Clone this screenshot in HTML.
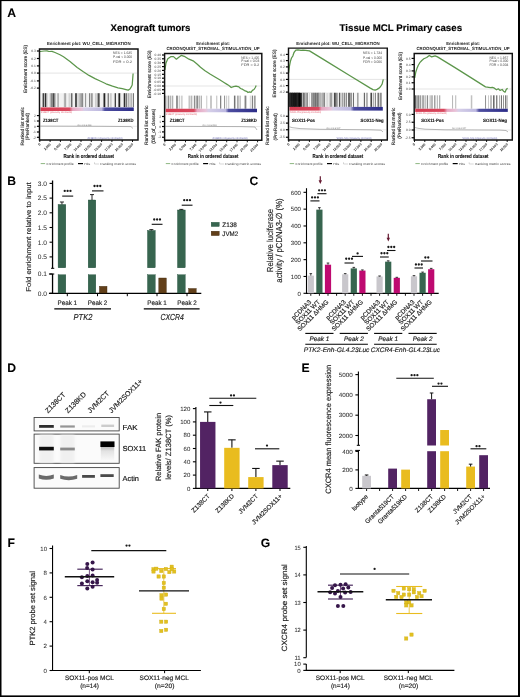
<!DOCTYPE html>
<html><head><meta charset="utf-8"><style>
html,body{margin:0;padding:0;background:#fff;}
body{width:520px;height:697px;overflow:hidden;position:relative;}
svg{position:absolute;left:0;top:0;display:block;will-change:transform;font-family:"Liberation Sans", sans-serif;}
.fr{position:absolute;left:0;top:0;width:517px;height:694px;border-style:solid;border-color:#000;border-width:1px 2px 2px 1px;}
</style></head><body>
<svg width="520" height="697" viewBox="0 0 520 697" text-rendering="geometricPrecision">
<text x="7.2" y="17" font-size="12.2" stroke="#000" stroke-width="0.05" font-weight="bold">A</text>
<text x="150.5" y="31.3" font-size="9.6" stroke="#000" stroke-width="0.16" text-anchor="middle" font-weight="bold" textLength="79.8" lengthAdjust="spacingAndGlyphs">Xenograft tumors</text>
<text x="400.8" y="31.3" font-size="9.6" stroke="#000" stroke-width="0.16" text-anchor="middle" font-weight="bold" textLength="122.5" lengthAdjust="spacingAndGlyphs">Tissue MCL Primary cases</text>
<text x="88.75" y="45" font-size="4.5" text-anchor="middle" font-weight="bold" fill="#1a1a1a" textLength="83.7" lengthAdjust="spacingAndGlyphs">Enrichment plot: WU_CELL_MIGRATION</text>
<line x1="39.5" y1="73.1" x2="137" y2="73.1" stroke="#bbb" stroke-width="0.4" />
<line x1="36.9" y1="51" x2="39.5" y2="51" stroke="#000" stroke-width="1.2" />
<text x="35.9" y="52.2" font-size="3.3" text-anchor="end" fill="#444">0.3</text>
<line x1="36.9" y1="58.5" x2="39.5" y2="58.5" stroke="#000" stroke-width="1.2" />
<text x="35.9" y="59.7" font-size="3.3" text-anchor="end" fill="#444">0.2</text>
<line x1="36.9" y1="65.9" x2="39.5" y2="65.9" stroke="#000" stroke-width="1.2" />
<text x="35.9" y="67.1" font-size="3.3" text-anchor="end" fill="#444">0.1</text>
<line x1="36.9" y1="73.1" x2="39.5" y2="73.1" stroke="#000" stroke-width="1.2" />
<text x="35.9" y="74.3" font-size="3.3" text-anchor="end" fill="#444">0.0</text>
<line x1="36.9" y1="80.9" x2="39.5" y2="80.9" stroke="#000" stroke-width="1.2" />
<text x="35.9" y="82.1" font-size="3.3" text-anchor="end" fill="#444">-0.1</text>
<line x1="36.9" y1="88.1" x2="39.5" y2="88.1" stroke="#000" stroke-width="1.2" />
<text x="35.9" y="89.3" font-size="3.3" text-anchor="end" fill="#444">-0.2</text>
<text x="113" y="54.4" font-size="3.6" fill="#444" textLength="19" lengthAdjust="spacingAndGlyphs">NES = 1.635</text>
<text x="113" y="58.4" font-size="3.6" fill="#444" textLength="19" lengthAdjust="spacingAndGlyphs">P-val < 0.000</text>
<text x="113" y="62.55" font-size="3.6" fill="#444" textLength="19" lengthAdjust="spacingAndGlyphs">FDR = 0.2</text>
<defs><linearGradient id="hb11" x1="0" x2="1" y1="0" y2="0"><stop offset="0" stop-color="#f2f2f2"/><stop offset="1" stop-color="#f2f2f2"/></linearGradient></defs>
<rect x="40.3" y="93.2" width="93.5" height="13.9" fill="url(#hb11)" />
<rect x="42.59" y="93.2" width="1.5" height="13.9" fill="rgb(65,65,65)" />
<rect x="44.73" y="93.2" width="1.5" height="13.9" fill="rgb(47,47,47)" />
<rect x="46.47" y="93.2" width="0.8" height="13.9" fill="rgb(147,147,147)" />
<rect x="49.73" y="93.2" width="1.8" height="13.9" fill="rgb(183,183,183)" />
<rect x="51.58" y="93.2" width="0.8" height="13.9" fill="rgb(35,35,35)" />
<rect x="52.75" y="93.2" width="1.5" height="13.9" fill="rgb(73,73,73)" />
<rect x="54.49" y="93.2" width="0.8" height="13.9" fill="rgb(81,81,81)" />
<rect x="57.56" y="93.2" width="1" height="13.9" fill="rgb(134,134,134)" />
<rect x="63.9" y="93.2" width="0.8" height="13.9" fill="rgb(154,154,154)" />
<rect x="64.97" y="93.2" width="1.2" height="13.9" fill="rgb(170,170,170)" />
<rect x="68.54" y="93.2" width="1.8" height="13.9" fill="rgb(212,212,212)" />
<rect x="70.96" y="93.2" width="1.5" height="13.9" fill="rgb(107,107,107)" />
<rect x="75.09" y="93.2" width="1.8" height="13.9" fill="rgb(68,68,68)" />
<rect x="77.21" y="93.2" width="1.8" height="13.9" fill="rgb(213,213,213)" />
<rect x="79.18" y="93.2" width="1.2" height="13.9" fill="rgb(183,183,183)" />
<rect x="80.69" y="93.2" width="0.8" height="13.9" fill="rgb(74,74,74)" />
<rect x="81.97" y="93.2" width="1.2" height="13.9" fill="rgb(138,138,138)" />
<rect x="85.11" y="93.2" width="1" height="13.9" fill="rgb(142,142,142)" />
<rect x="89.1" y="93.2" width="1" height="13.9" fill="rgb(119,119,119)" />
<rect x="90.16" y="93.2" width="0.8" height="13.9" fill="rgb(208,208,208)" />
<rect x="91.15" y="93.2" width="1.5" height="13.9" fill="rgb(140,140,140)" />
<rect x="95.35" y="93.2" width="1" height="13.9" fill="rgb(187,187,187)" />
<rect x="96.85" y="93.2" width="1.2" height="13.9" fill="rgb(168,168,168)" />
<rect x="98.1" y="93.2" width="1.5" height="13.9" fill="rgb(62,62,62)" />
<rect x="103.5" y="93.2" width="1.8" height="13.9" fill="rgb(36,36,36)" />
<rect x="107.76" y="93.2" width="0.8" height="13.9" fill="rgb(42,42,42)" />
<rect x="109.93" y="93.2" width="1.8" height="13.9" fill="rgb(203,203,203)" />
<rect x="114.69" y="93.2" width="1.2" height="13.9" fill="rgb(44,44,44)" />
<rect x="118.43" y="93.2" width="1.8" height="13.9" fill="rgb(32,32,32)" />
<rect x="120.29" y="93.2" width="0.8" height="13.9" fill="rgb(192,192,192)" />
<rect x="123.71" y="93.2" width="1.5" height="13.9" fill="rgb(45,45,45)" />
<rect x="125.81" y="93.2" width="0.8" height="13.9" fill="rgb(34,34,34)" />
<rect x="127.38" y="93.2" width="0.8" height="13.9" fill="rgb(200,200,200)" />
<rect x="128.38" y="93.2" width="0.8" height="13.9" fill="rgb(143,143,143)" />
<rect x="129.6" y="93.2" width="1.2" height="13.9" fill="rgb(194,194,194)" />
<rect x="131.06" y="93.2" width="1.2" height="13.9" fill="rgb(179,179,179)" />
<rect x="132.99" y="93.2" width="0.81" height="13.9" fill="rgb(88,88,88)" />
<defs><linearGradient id="g11" x1="0" x2="1" y1="0" y2="0"><stop offset="0" stop-color="#d63a50"/><stop offset="0.31" stop-color="#d8485e"/><stop offset="0.345" stop-color="#e6a6c0"/><stop offset="0.44" stop-color="#e8c4da"/><stop offset="0.47" stop-color="#d6cfe8"/><stop offset="0.655" stop-color="#bcb8e0"/><stop offset="0.69" stop-color="#4e4ea0"/><stop offset="1" stop-color="#2c2c88"/></linearGradient></defs>
<rect x="40.5" y="107.4" width="93.3" height="3.6" fill="url(#g11)" />
<text x="41" y="113.3" font-size="2.6" fill="#e06070" textLength="31" lengthAdjust="spacingAndGlyphs">Z138CT (positively correlated)</text>
<text x="87.5" y="138.5" font-size="2.6" fill="#6a6ab0" textLength="35" lengthAdjust="spacingAndGlyphs">Z138KD (negatively correlated)</text>
<path d="M40,51.5 L44,51 L47,50.8 L49,51.5 L52,51.3 L55,52.5 L60,54.8 L63.5,56.8 L70,61.5 L77.2,67.4 L83,71.5 L89,75.4 L95,78.6 L100.7,81.3 L106,83.8 L112.5,86.2 L118,87.8 L122.3,88.7 L126,89.6 L128.2,90.1 L130,89 L131.1,87.2 L132.2,85 L133.1,73.5" stroke="#5c964b" stroke-width="1.25" fill="none" stroke-linejoin="round"/>
<line x1="39.5" y1="126.3" x2="137" y2="126.3" stroke="#ccc" stroke-width="0.4" />
<path d="M40.5,126.1 L100,126.3 L131,126.6 L133,128.5" stroke="#888" stroke-width="0.6" fill="none" />
<text x="77.5" y="125.7" font-size="2.4" fill="#777" textLength="14" lengthAdjust="spacingAndGlyphs">Zero cross at 4863</text>
<line x1="36.9" y1="115.6" x2="39.5" y2="115.6" stroke="#000" stroke-width="1.2" />
<text x="35.9" y="116.8" font-size="3.3" text-anchor="end" fill="#444">2</text>
<line x1="36.9" y1="121" x2="39.5" y2="121" stroke="#000" stroke-width="1.2" />
<text x="35.9" y="122.2" font-size="3.3" text-anchor="end" fill="#444">1</text>
<line x1="36.9" y1="126.3" x2="39.5" y2="126.3" stroke="#000" stroke-width="1.2" />
<text x="35.9" y="127.5" font-size="3.3" text-anchor="end" fill="#444">0</text>
<line x1="36.9" y1="132" x2="39.5" y2="132" stroke="#000" stroke-width="1.2" />
<text x="35.9" y="133.2" font-size="3.3" text-anchor="end" fill="#444">-1</text>
<line x1="36.9" y1="137.3" x2="39.5" y2="137.3" stroke="#000" stroke-width="1.2" />
<text x="35.9" y="138.5" font-size="3.3" text-anchor="end" fill="#444">-2</text>
<text x="43" y="122.1" font-size="4.7" stroke="#111" stroke-width="0.12" font-weight="bold" fill="#111" textLength="15.4" lengthAdjust="spacingAndGlyphs">Z138CT</text>
<text x="133.6" y="122.1" font-size="4.7" stroke="#111" stroke-width="0.12" text-anchor="end" font-weight="bold" fill="#111" textLength="15.6" lengthAdjust="spacingAndGlyphs">Z138KD</text>
<path d="M39.5,49 L138,49 L138,140 L39.5,140 Z" fill="none" stroke="#111" stroke-width="1.45"/>
<text transform="translate(26.8,69) rotate(-90)" font-size="4.8" stroke="#222" stroke-width="0.12" text-anchor="middle" fill="#222" textLength="48" lengthAdjust="spacingAndGlyphs">Enrichment score (ES)</text>
<text transform="translate(23.5,126.2) rotate(-90)" font-size="4.8" stroke="#222" stroke-width="0.12" text-anchor="middle" fill="#222" textLength="38.4" lengthAdjust="spacingAndGlyphs">Ranked list metric</text>
<text transform="translate(28.9,126.5) rotate(-90)" font-size="4.8" stroke="#222" stroke-width="0.12" text-anchor="middle" fill="#222" textLength="27.3" lengthAdjust="spacingAndGlyphs">(PreRanked)</text>
<line x1="39.8" y1="140" x2="39.8" y2="142" stroke="#000" stroke-width="0.9" />
<text transform="translate(40.8,144.6) rotate(-45)" font-size="3.5" text-anchor="end" font-weight="bold" fill="#222" textLength="1.98" lengthAdjust="spacingAndGlyphs">0</text>
<line x1="50.1" y1="140" x2="50.1" y2="142" stroke="#000" stroke-width="0.9" />
<text transform="translate(51.1,144.6) rotate(-45)" font-size="3.5" text-anchor="end" font-weight="bold" fill="#222" textLength="8.3" lengthAdjust="spacingAndGlyphs">2,500</text>
<line x1="60.4" y1="140" x2="60.4" y2="142" stroke="#000" stroke-width="0.9" />
<text transform="translate(61.4,144.6) rotate(-45)" font-size="3.5" text-anchor="end" font-weight="bold" fill="#222" textLength="8.3" lengthAdjust="spacingAndGlyphs">5,000</text>
<line x1="70.7" y1="140" x2="70.7" y2="142" stroke="#000" stroke-width="0.9" />
<text transform="translate(71.7,144.6) rotate(-45)" font-size="3.5" text-anchor="end" font-weight="bold" fill="#222" textLength="8.3" lengthAdjust="spacingAndGlyphs">7,500</text>
<line x1="81" y1="140" x2="81" y2="142" stroke="#000" stroke-width="0.9" />
<text transform="translate(82,144.6) rotate(-45)" font-size="3.5" text-anchor="end" font-weight="bold" fill="#222" textLength="9.88" lengthAdjust="spacingAndGlyphs">10,000</text>
<line x1="91.3" y1="140" x2="91.3" y2="142" stroke="#000" stroke-width="0.9" />
<text transform="translate(92.3,144.6) rotate(-45)" font-size="3.5" text-anchor="end" font-weight="bold" fill="#222" textLength="9.88" lengthAdjust="spacingAndGlyphs">12,500</text>
<line x1="101.6" y1="140" x2="101.6" y2="142" stroke="#000" stroke-width="0.9" />
<text transform="translate(102.6,144.6) rotate(-45)" font-size="3.5" text-anchor="end" font-weight="bold" fill="#222" textLength="9.88" lengthAdjust="spacingAndGlyphs">15,000</text>
<line x1="111.9" y1="140" x2="111.9" y2="142" stroke="#000" stroke-width="0.9" />
<text transform="translate(112.9,144.6) rotate(-45)" font-size="3.5" text-anchor="end" font-weight="bold" fill="#222" textLength="9.88" lengthAdjust="spacingAndGlyphs">17,500</text>
<line x1="122.2" y1="140" x2="122.2" y2="142" stroke="#000" stroke-width="0.9" />
<text transform="translate(123.2,144.6) rotate(-45)" font-size="3.5" text-anchor="end" font-weight="bold" fill="#222" textLength="9.88" lengthAdjust="spacingAndGlyphs">20,000</text>
<line x1="132.5" y1="140" x2="132.5" y2="142" stroke="#000" stroke-width="0.9" />
<text transform="translate(133.5,144.6) rotate(-45)" font-size="3.5" text-anchor="end" font-weight="bold" fill="#222" textLength="9.88" lengthAdjust="spacingAndGlyphs">22,500</text>
<text x="88.75" y="158.1" font-size="5.7" stroke="#111" stroke-width="0.1" text-anchor="middle" font-weight="bold" fill="#111" textLength="50.7" lengthAdjust="spacingAndGlyphs">Rank in ordered dataset</text>
<line x1="40.7" y1="163.6" x2="45.1" y2="163.6" stroke="#5c964b" stroke-width="0.7" />
<text x="46.5" y="164.7" font-size="3.1" fill="#444" textLength="27" lengthAdjust="spacingAndGlyphs">Enrichment profile</text>
<line x1="78" y1="163.6" x2="83" y2="163.6" stroke="#000" stroke-width="1.2" />
<text x="84.3" y="164.7" font-size="3.1" fill="#444" textLength="6" lengthAdjust="spacingAndGlyphs">Hits</text>
<path d="M94.5,162.3 L94.5,164 L99,164" stroke="#999" stroke-width="0.4" fill="none" />
<text x="100" y="164.7" font-size="3.1" fill="#444" textLength="36" lengthAdjust="spacingAndGlyphs">Ranking metric scores</text>
<text x="213.1" y="45" font-size="4.5" text-anchor="middle" font-weight="bold" fill="#1a1a1a" textLength="33.75" lengthAdjust="spacingAndGlyphs">Enrichment plot:</text>
<text x="213.1" y="49.9" font-size="4.5" text-anchor="middle" font-weight="bold" fill="#1a1a1a" textLength="93.25" lengthAdjust="spacingAndGlyphs">CROONQUIST_STROMAL_STIMULATION_UP</text>
<line x1="164.6" y1="86" x2="260.8" y2="86" stroke="#bbb" stroke-width="0.4" />
<line x1="162" y1="55" x2="164.6" y2="55" stroke="#000" stroke-width="1.2" />
<text x="161" y="56.2" font-size="3.3" text-anchor="end" fill="#444">0.40</text>
<line x1="162" y1="58.8" x2="164.6" y2="58.8" stroke="#000" stroke-width="1.2" />
<text x="161" y="60" font-size="3.3" text-anchor="end" fill="#444">0.35</text>
<line x1="162" y1="62.7" x2="164.6" y2="62.7" stroke="#000" stroke-width="1.2" />
<text x="161" y="63.9" font-size="3.3" text-anchor="end" fill="#444">0.30</text>
<line x1="162" y1="66.6" x2="164.6" y2="66.6" stroke="#000" stroke-width="1.2" />
<text x="161" y="67.8" font-size="3.3" text-anchor="end" fill="#444">0.25</text>
<line x1="162" y1="70.4" x2="164.6" y2="70.4" stroke="#000" stroke-width="1.2" />
<text x="161" y="71.6" font-size="3.3" text-anchor="end" fill="#444">0.20</text>
<line x1="162" y1="74.3" x2="164.6" y2="74.3" stroke="#000" stroke-width="1.2" />
<text x="161" y="75.5" font-size="3.3" text-anchor="end" fill="#444">0.15</text>
<line x1="162" y1="78.2" x2="164.6" y2="78.2" stroke="#000" stroke-width="1.2" />
<text x="161" y="79.4" font-size="3.3" text-anchor="end" fill="#444">0.10</text>
<line x1="162" y1="82.1" x2="164.6" y2="82.1" stroke="#000" stroke-width="1.2" />
<text x="161" y="83.3" font-size="3.3" text-anchor="end" fill="#444">0.05</text>
<line x1="162" y1="86" x2="164.6" y2="86" stroke="#000" stroke-width="1.2" />
<text x="161" y="87.2" font-size="3.3" text-anchor="end" fill="#444">0.00</text>
<line x1="162" y1="89.7" x2="164.6" y2="89.7" stroke="#000" stroke-width="1.2" />
<text x="161" y="90.9" font-size="3.3" text-anchor="end" fill="#444">-0.05</text>
<line x1="162" y1="93.4" x2="164.6" y2="93.4" stroke="#000" stroke-width="1.2" />
<text x="161" y="94.6" font-size="3.3" text-anchor="end" fill="#444">-0.10</text>
<text x="241.25" y="58.55" font-size="3.6" fill="#444" textLength="18" lengthAdjust="spacingAndGlyphs">NES = 1.405</text>
<text x="241.25" y="62.3" font-size="3.6" fill="#444" textLength="18" lengthAdjust="spacingAndGlyphs">P-val = 0.03</text>
<text x="241.25" y="66.05" font-size="3.6" fill="#444" textLength="18" lengthAdjust="spacingAndGlyphs">FDR = 0.2</text>
<rect x="165.4" y="95.6" width="1" height="13.15" fill="rgb(151,151,151)" />
<rect x="167.7" y="95.6" width="1.2" height="13.15" fill="rgb(133,133,133)" />
<rect x="169.55" y="95.6" width="1.8" height="13.15" fill="rgb(181,181,181)" />
<rect x="172.38" y="95.6" width="0.8" height="13.15" fill="rgb(132,132,132)" />
<rect x="176.08" y="95.6" width="1.8" height="13.15" fill="rgb(140,140,140)" />
<rect x="178.66" y="95.6" width="1.5" height="13.15" fill="rgb(205,205,205)" />
<rect x="181.41" y="95.6" width="1" height="13.15" fill="rgb(177,177,177)" />
<rect x="188.66" y="95.6" width="1" height="13.15" fill="rgb(166,166,166)" />
<rect x="190.55" y="95.6" width="1.8" height="13.15" fill="rgb(184,184,184)" />
<rect x="193.85" y="95.6" width="1.5" height="13.15" fill="rgb(142,142,142)" />
<rect x="196.38" y="95.6" width="1.5" height="13.15" fill="rgb(125,125,125)" />
<rect x="198.72" y="95.6" width="0.8" height="13.15" fill="rgb(122,122,122)" />
<rect x="200.67" y="95.6" width="1.2" height="13.15" fill="rgb(171,171,171)" />
<rect x="206.26" y="95.6" width="1" height="13.15" fill="rgb(201,201,201)" />
<rect x="210.1" y="95.6" width="1.8" height="13.15" fill="rgb(195,195,195)" />
<rect x="216.42" y="95.6" width="0.8" height="13.15" fill="rgb(171,171,171)" />
<rect x="220.06" y="95.6" width="1.2" height="13.15" fill="rgb(125,125,125)" />
<rect x="224.27" y="95.6" width="0.8" height="13.15" fill="rgb(115,115,115)" />
<rect x="226.14" y="95.6" width="1" height="13.15" fill="rgb(200,200,200)" />
<rect x="228.26" y="95.6" width="1" height="13.15" fill="rgb(194,194,194)" />
<rect x="233.93" y="95.6" width="1.5" height="13.15" fill="rgb(116,116,116)" />
<rect x="236.95" y="95.6" width="1.8" height="13.15" fill="rgb(172,172,172)" />
<rect x="239.41" y="95.6" width="1.5" height="13.15" fill="rgb(193,193,193)" />
<rect x="244.56" y="95.6" width="1.8" height="13.15" fill="rgb(132,132,132)" />
<rect x="249.85" y="95.6" width="0.8" height="13.15" fill="rgb(198,198,198)" />
<rect x="251.8" y="95.6" width="1.2" height="13.15" fill="rgb(132,132,132)" />
<rect x="253.86" y="95.6" width="1.8" height="13.15" fill="rgb(158,158,158)" />
<defs><linearGradient id="g22" x1="0" x2="1" y1="0" y2="0"><stop offset="0" stop-color="#d63a50"/><stop offset="0.31" stop-color="#d8485e"/><stop offset="0.345" stop-color="#e6a6c0"/><stop offset="0.44" stop-color="#e8c4da"/><stop offset="0.47" stop-color="#d6cfe8"/><stop offset="0.655" stop-color="#bcb8e0"/><stop offset="0.69" stop-color="#4e4ea0"/><stop offset="1" stop-color="#2c2c88"/></linearGradient></defs>
<rect x="165.6" y="108.75" width="91.4" height="3.5" fill="url(#g22)" />
<text x="166.1" y="114.55" font-size="2.6" fill="#e06070" textLength="31" lengthAdjust="spacingAndGlyphs">Z138CT (positively correlated)</text>
<text x="212.6" y="138.8" font-size="2.6" fill="#6a6ab0" textLength="35" lengthAdjust="spacingAndGlyphs">Z138KD (negatively correlated)</text>
<path d="M164.9,70 L166,63 L167.8,58.7 L170.7,56.7 L173.5,56.6 L176.4,59.2 L178.5,57.5 L181.2,55.4 L185,56.7 L189,59.2 L193.7,61.2 L197,64 L200.5,67.3 L205,70.8 L210,74 L215,77 L219.7,79.8 L224,82.5 L227.4,84.6 L229.5,86 L231.2,87.5 L233.5,86.6 L236,86.2 L238.9,86.9 L240.5,88.5 L242.8,89.4 L244.5,90.6 L246.6,91.3 L248,92.5 L249.5,91.9 L251,92.3 L252.4,90.4 L254,89.5 L255.3,87.5 L256.2,85.6" stroke="#5c964b" stroke-width="1.25" fill="none" stroke-linejoin="round"/>
<line x1="164.6" y1="126.5" x2="260.8" y2="126.5" stroke="#ccc" stroke-width="0.4" />
<path d="M165.5,126.3 L240,126.6 L255,127 L257,130" stroke="#888" stroke-width="0.6" fill="none" />
<text x="202.6" y="125.9" font-size="2.4" fill="#777" textLength="14" lengthAdjust="spacingAndGlyphs">Zero cross at 4863</text>
<line x1="162" y1="116.5" x2="164.6" y2="116.5" stroke="#000" stroke-width="1.2" />
<text x="161" y="117.7" font-size="3.3" text-anchor="end" fill="#444">2</text>
<line x1="162" y1="121.5" x2="164.6" y2="121.5" stroke="#000" stroke-width="1.2" />
<text x="161" y="122.7" font-size="3.3" text-anchor="end" fill="#444">1</text>
<line x1="162" y1="126.5" x2="164.6" y2="126.5" stroke="#000" stroke-width="1.2" />
<text x="161" y="127.7" font-size="3.3" text-anchor="end" fill="#444">0</text>
<line x1="162" y1="131.9" x2="164.6" y2="131.9" stroke="#000" stroke-width="1.2" />
<text x="161" y="133.1" font-size="3.3" text-anchor="end" fill="#444">-1</text>
<line x1="162" y1="137.25" x2="164.6" y2="137.25" stroke="#000" stroke-width="1.2" />
<text x="161" y="138.45" font-size="3.3" text-anchor="end" fill="#444">-2</text>
<text x="169.75" y="122.1" font-size="4.7" stroke="#111" stroke-width="0.12" font-weight="bold" fill="#111" textLength="14.65" lengthAdjust="spacingAndGlyphs">Z138CT</text>
<text x="256.9" y="122.1" font-size="4.7" stroke="#111" stroke-width="0.12" text-anchor="end" font-weight="bold" fill="#111" textLength="15.65" lengthAdjust="spacingAndGlyphs">Z138KD</text>
<path d="M164.6,53.5 L261.8,53.5 L261.8,140.3 L164.6,140.3 Z" fill="none" stroke="#111" stroke-width="1.45"/>
<text transform="translate(150.5,74.3) rotate(-90)" font-size="4.8" stroke="#222" stroke-width="0.12" text-anchor="middle" fill="#222" textLength="48" lengthAdjust="spacingAndGlyphs">Enrichment score (ES)</text>
<text transform="translate(147.6,125.3) rotate(-90)" font-size="4.8" stroke="#222" stroke-width="0.12" text-anchor="middle" fill="#222" textLength="39.4" lengthAdjust="spacingAndGlyphs">Ranked list metric</text>
<text transform="translate(155.4,126.3) rotate(-90)" font-size="4.8" stroke="#222" stroke-width="0.12" text-anchor="middle" fill="#222" textLength="35" lengthAdjust="spacingAndGlyphs">(Diff_of_classes)</text>
<line x1="164.9" y1="140.3" x2="164.9" y2="142.3" stroke="#000" stroke-width="0.9" />
<text transform="translate(165.9,144.9) rotate(-45)" font-size="3.5" text-anchor="end" font-weight="bold" fill="#222" textLength="1.98" lengthAdjust="spacingAndGlyphs">0</text>
<line x1="175.2" y1="140.3" x2="175.2" y2="142.3" stroke="#000" stroke-width="0.9" />
<text transform="translate(176.2,144.9) rotate(-45)" font-size="3.5" text-anchor="end" font-weight="bold" fill="#222" textLength="8.3" lengthAdjust="spacingAndGlyphs">2,500</text>
<line x1="185.5" y1="140.3" x2="185.5" y2="142.3" stroke="#000" stroke-width="0.9" />
<text transform="translate(186.5,144.9) rotate(-45)" font-size="3.5" text-anchor="end" font-weight="bold" fill="#222" textLength="8.3" lengthAdjust="spacingAndGlyphs">5,000</text>
<line x1="195.8" y1="140.3" x2="195.8" y2="142.3" stroke="#000" stroke-width="0.9" />
<text transform="translate(196.8,144.9) rotate(-45)" font-size="3.5" text-anchor="end" font-weight="bold" fill="#222" textLength="8.3" lengthAdjust="spacingAndGlyphs">7,500</text>
<line x1="206.1" y1="140.3" x2="206.1" y2="142.3" stroke="#000" stroke-width="0.9" />
<text transform="translate(207.1,144.9) rotate(-45)" font-size="3.5" text-anchor="end" font-weight="bold" fill="#222" textLength="9.88" lengthAdjust="spacingAndGlyphs">10,000</text>
<line x1="216.4" y1="140.3" x2="216.4" y2="142.3" stroke="#000" stroke-width="0.9" />
<text transform="translate(217.4,144.9) rotate(-45)" font-size="3.5" text-anchor="end" font-weight="bold" fill="#222" textLength="9.88" lengthAdjust="spacingAndGlyphs">12,500</text>
<line x1="226.7" y1="140.3" x2="226.7" y2="142.3" stroke="#000" stroke-width="0.9" />
<text transform="translate(227.7,144.9) rotate(-45)" font-size="3.5" text-anchor="end" font-weight="bold" fill="#222" textLength="9.88" lengthAdjust="spacingAndGlyphs">15,000</text>
<line x1="237" y1="140.3" x2="237" y2="142.3" stroke="#000" stroke-width="0.9" />
<text transform="translate(238,144.9) rotate(-45)" font-size="3.5" text-anchor="end" font-weight="bold" fill="#222" textLength="9.88" lengthAdjust="spacingAndGlyphs">17,500</text>
<line x1="247.3" y1="140.3" x2="247.3" y2="142.3" stroke="#000" stroke-width="0.9" />
<text transform="translate(248.3,144.9) rotate(-45)" font-size="3.5" text-anchor="end" font-weight="bold" fill="#222" textLength="9.88" lengthAdjust="spacingAndGlyphs">20,000</text>
<line x1="257.6" y1="140.3" x2="257.6" y2="142.3" stroke="#000" stroke-width="0.9" />
<text transform="translate(258.6,144.9) rotate(-45)" font-size="3.5" text-anchor="end" font-weight="bold" fill="#222" textLength="9.88" lengthAdjust="spacingAndGlyphs">22,500</text>
<text x="213.2" y="158.1" font-size="5.7" stroke="#111" stroke-width="0.1" text-anchor="middle" font-weight="bold" fill="#111" textLength="50.7" lengthAdjust="spacingAndGlyphs">Rank in ordered dataset</text>
<line x1="165.8" y1="163.6" x2="170.2" y2="163.6" stroke="#5c964b" stroke-width="0.7" />
<text x="171.6" y="164.7" font-size="3.1" fill="#444" textLength="27" lengthAdjust="spacingAndGlyphs">Enrichment profile</text>
<line x1="203.1" y1="163.6" x2="208.1" y2="163.6" stroke="#000" stroke-width="1.2" />
<text x="209.4" y="164.7" font-size="3.1" fill="#444" textLength="6" lengthAdjust="spacingAndGlyphs">Hits</text>
<path d="M219.6,162.3 L219.6,164 L224.1,164" stroke="#999" stroke-width="0.4" fill="none" />
<text x="225.1" y="164.7" font-size="3.1" fill="#444" textLength="36" lengthAdjust="spacingAndGlyphs">Ranking metric scores</text>
<text x="338" y="45" font-size="4.5" text-anchor="middle" font-weight="bold" fill="#1a1a1a" textLength="83.5" lengthAdjust="spacingAndGlyphs">Enrichment plot: WU_CELL_MIGRATION</text>
<line x1="288.5" y1="79.4" x2="386.3" y2="79.4" stroke="#bbb" stroke-width="0.4" />
<line x1="285.9" y1="54.4" x2="288.5" y2="54.4" stroke="#000" stroke-width="1.2" />
<text x="284.9" y="55.6" font-size="3.3" text-anchor="end" fill="#444">0.4</text>
<line x1="285.9" y1="60.6" x2="288.5" y2="60.6" stroke="#000" stroke-width="1.2" />
<text x="284.9" y="61.8" font-size="3.3" text-anchor="end" fill="#444">0.3</text>
<line x1="285.9" y1="66.9" x2="288.5" y2="66.9" stroke="#000" stroke-width="1.2" />
<text x="284.9" y="68.1" font-size="3.3" text-anchor="end" fill="#444">0.2</text>
<line x1="285.9" y1="73.1" x2="288.5" y2="73.1" stroke="#000" stroke-width="1.2" />
<text x="284.9" y="74.3" font-size="3.3" text-anchor="end" fill="#444">0.1</text>
<line x1="285.9" y1="79.4" x2="288.5" y2="79.4" stroke="#000" stroke-width="1.2" />
<text x="284.9" y="80.6" font-size="3.3" text-anchor="end" fill="#444">0.0</text>
<line x1="285.9" y1="85.6" x2="288.5" y2="85.6" stroke="#000" stroke-width="1.2" />
<text x="284.9" y="86.8" font-size="3.3" text-anchor="end" fill="#444">-0.1</text>
<line x1="285.9" y1="92.1" x2="288.5" y2="92.1" stroke="#000" stroke-width="1.2" />
<text x="284.9" y="93.3" font-size="3.3" text-anchor="end" fill="#444">-0.2</text>
<text x="363" y="54.4" font-size="3.6" fill="#444" textLength="19" lengthAdjust="spacingAndGlyphs">NES = 1.734</text>
<text x="363" y="58.55" font-size="3.6" fill="#444" textLength="19" lengthAdjust="spacingAndGlyphs">P-val < 0.000</text>
<text x="363" y="62.55" font-size="3.6" fill="#444" textLength="19" lengthAdjust="spacingAndGlyphs">FDR = 0.006</text>
<defs><linearGradient id="hb33" x1="0" x2="1" y1="0" y2="0"><stop offset="0" stop-color="#111"/><stop offset="0.12" stop-color="#1a1a1a"/><stop offset="0.16" stop-color="#999"/><stop offset="0.4" stop-color="#dadada"/><stop offset="0.6" stop-color="#f4f4f4"/><stop offset="1" stop-color="#fff"/></linearGradient></defs>
<rect x="289.3" y="92.75" width="93.5" height="14.15" fill="url(#hb33)" />
<rect x="289.3" y="92.75" width="1.8" height="14.15" fill="rgb(42,42,42)" />
<rect x="291.48" y="92.75" width="1.8" height="14.15" fill="rgb(32,32,32)" />
<rect x="293.78" y="92.75" width="1.8" height="14.15" fill="rgb(24,24,24)" />
<rect x="295.8" y="92.75" width="0.8" height="14.15" fill="rgb(24,24,24)" />
<rect x="296.64" y="92.75" width="1.8" height="14.15" fill="rgb(40,40,40)" />
<rect x="298.67" y="92.75" width="1.2" height="14.15" fill="rgb(5,5,5)" />
<rect x="302.4" y="92.75" width="0.8" height="14.15" fill="rgb(243,243,243)" />
<rect x="303.42" y="92.75" width="0.8" height="14.15" fill="rgb(82,82,82)" />
<rect x="304.77" y="92.75" width="0.8" height="14.15" fill="rgb(133,133,133)" />
<rect x="305.62" y="92.75" width="0.8" height="14.15" fill="rgb(244,244,244)" />
<rect x="306.58" y="92.75" width="1" height="14.15" fill="rgb(126,126,126)" />
<rect x="308.05" y="92.75" width="1.5" height="14.15" fill="rgb(247,247,247)" />
<rect x="309.86" y="92.75" width="1.2" height="14.15" fill="rgb(248,248,248)" />
<rect x="311.41" y="92.75" width="1.2" height="14.15" fill="rgb(140,140,140)" />
<rect x="313.19" y="92.75" width="1.5" height="14.15" fill="rgb(120,120,120)" />
<rect x="315.06" y="92.75" width="1.5" height="14.15" fill="rgb(108,108,108)" />
<rect x="317.17" y="92.75" width="1.5" height="14.15" fill="rgb(102,102,102)" />
<rect x="318.75" y="92.75" width="1" height="14.15" fill="rgb(177,177,177)" />
<rect x="319.89" y="92.75" width="1.2" height="14.15" fill="rgb(180,180,180)" />
<rect x="321.79" y="92.75" width="1.8" height="14.15" fill="rgb(176,176,176)" />
<rect x="323.6" y="92.75" width="1.5" height="14.15" fill="rgb(134,134,134)" />
<rect x="325.26" y="92.75" width="1" height="14.15" fill="rgb(250,250,250)" />
<rect x="328.29" y="92.75" width="0.8" height="14.15" fill="rgb(241,241,241)" />
<rect x="329.77" y="92.75" width="1.5" height="14.15" fill="rgb(162,162,162)" />
<rect x="331.45" y="92.75" width="0.8" height="14.15" fill="rgb(124,124,124)" />
<rect x="332.5" y="92.75" width="0.8" height="14.15" fill="rgb(240,240,240)" />
<rect x="333.99" y="92.75" width="1.8" height="14.15" fill="rgb(72,72,72)" />
<rect x="336.1" y="92.75" width="1.5" height="14.15" fill="rgb(133,133,133)" />
<rect x="339.04" y="92.75" width="1.2" height="14.15" fill="rgb(78,78,78)" />
<rect x="341.64" y="92.75" width="1.8" height="14.15" fill="rgb(163,163,163)" />
<rect x="344.04" y="92.75" width="0.8" height="14.15" fill="rgb(110,110,110)" />
<rect x="345.7" y="92.75" width="1.2" height="14.15" fill="rgb(129,129,129)" />
<rect x="348.1" y="92.75" width="1.8" height="14.15" fill="rgb(91,91,91)" />
<rect x="350.54" y="92.75" width="1" height="14.15" fill="rgb(71,71,71)" />
<rect x="352.96" y="92.75" width="1" height="14.15" fill="rgb(106,106,106)" />
<rect x="357.38" y="92.75" width="1" height="14.15" fill="rgb(114,114,114)" />
<rect x="363.83" y="92.75" width="1.2" height="14.15" fill="rgb(103,103,103)" />
<rect x="366.06" y="92.75" width="1.8" height="14.15" fill="rgb(172,172,172)" />
<rect x="370.46" y="92.75" width="1.5" height="14.15" fill="rgb(64,64,64)" />
<rect x="372.73" y="92.75" width="1.5" height="14.15" fill="rgb(176,176,176)" />
<rect x="374.96" y="92.75" width="1" height="14.15" fill="rgb(133,133,133)" />
<rect x="377.46" y="92.75" width="1.8" height="14.15" fill="rgb(115,115,115)" />
<rect x="379.95" y="92.75" width="1.8" height="14.15" fill="rgb(142,142,142)" />
<defs><linearGradient id="g33" x1="0" x2="1" y1="0" y2="0"><stop offset="0" stop-color="#d63a50"/><stop offset="0.31" stop-color="#d8485e"/><stop offset="0.345" stop-color="#e6a6c0"/><stop offset="0.44" stop-color="#e8c4da"/><stop offset="0.47" stop-color="#d6cfe8"/><stop offset="0.655" stop-color="#bcb8e0"/><stop offset="0.69" stop-color="#4e4ea0"/><stop offset="1" stop-color="#2c2c88"/></linearGradient></defs>
<rect x="289.5" y="106.9" width="93.3" height="3.7" fill="url(#g33)" />
<text x="290" y="112.9" font-size="2.6" fill="#e06070" textLength="31" lengthAdjust="spacingAndGlyphs">SOX11-Pos (positively correlated)</text>
<text x="336.5" y="138.5" font-size="2.6" fill="#6a6ab0" textLength="35" lengthAdjust="spacingAndGlyphs">SOX11-Neg (negatively correlated)</text>
<path d="M288.6,73 L289.5,66 L290.5,61 L291.5,58 L292.9,55.8 L294,52.5 L295.8,50.2 L298,49.9 L301,50.4 L303,50.1 L305.6,50.3 L309.5,50.9 L325,60.4 L350,75.7 L370.3,88.1 L373,89.6 L375.2,90.1 L377,89.4 L379.1,88.1 L380.6,86.5 L382.1,84.2 L383.3,79.4" stroke="#5c964b" stroke-width="1.25" fill="none" stroke-linejoin="round"/>
<line x1="288.5" y1="129.75" x2="386.3" y2="129.75" stroke="#ccc" stroke-width="0.4" />
<path d="M289.5,126.8 L292,127.6 L300,128.6 L320,129.3 L370,129.8 L381,130.2 L383,132" stroke="#888" stroke-width="0.6" fill="none" />
<text x="326.5" y="129.15" font-size="2.4" fill="#777" textLength="14" lengthAdjust="spacingAndGlyphs">Zero cross at 9377</text>
<line x1="285.9" y1="116.25" x2="288.5" y2="116.25" stroke="#000" stroke-width="1.2" />
<text x="284.9" y="117.45" font-size="3.3" text-anchor="end" fill="#444">5.0</text>
<line x1="285.9" y1="123.1" x2="288.5" y2="123.1" stroke="#000" stroke-width="1.2" />
<text x="284.9" y="124.3" font-size="3.3" text-anchor="end" fill="#444">2.5</text>
<line x1="285.9" y1="129.75" x2="288.5" y2="129.75" stroke="#000" stroke-width="1.2" />
<text x="284.9" y="130.95" font-size="3.3" text-anchor="end" fill="#444">0.0</text>
<line x1="285.9" y1="137.25" x2="288.5" y2="137.25" stroke="#000" stroke-width="1.2" />
<text x="284.9" y="138.45" font-size="3.3" text-anchor="end" fill="#444">-2.5</text>
<text x="291.9" y="122.1" font-size="4.7" stroke="#111" stroke-width="0.12" font-weight="bold" fill="#111" textLength="23.1" lengthAdjust="spacingAndGlyphs">SOX11-Pos</text>
<text x="383.5" y="122.1" font-size="4.7" stroke="#111" stroke-width="0.12" text-anchor="end" font-weight="bold" fill="#111" textLength="22.9" lengthAdjust="spacingAndGlyphs">SOX11-Neg</text>
<path d="M288.5,48.1 L387.3,48.1 L387.3,140 L288.5,140 Z" fill="none" stroke="#111" stroke-width="1.45"/>
<text transform="translate(276,73.5) rotate(-90)" font-size="4.8" stroke="#222" stroke-width="0.12" text-anchor="middle" fill="#222" textLength="48" lengthAdjust="spacingAndGlyphs">Enrichment score (ES)</text>
<text transform="translate(268.9,125.6) rotate(-90)" font-size="4.8" stroke="#222" stroke-width="0.12" text-anchor="middle" fill="#222" textLength="38.6" lengthAdjust="spacingAndGlyphs">Ranked list metric</text>
<text transform="translate(276.7,126.8) rotate(-90)" font-size="4.8" stroke="#222" stroke-width="0.12" text-anchor="middle" fill="#222" textLength="27.3" lengthAdjust="spacingAndGlyphs">(PreRanked)</text>
<line x1="288.8" y1="140" x2="288.8" y2="142" stroke="#000" stroke-width="0.9" />
<text transform="translate(289.8,144.6) rotate(-45)" font-size="3.5" text-anchor="end" font-weight="bold" fill="#222" textLength="1.98" lengthAdjust="spacingAndGlyphs">0</text>
<line x1="299.1" y1="140" x2="299.1" y2="142" stroke="#000" stroke-width="0.9" />
<text transform="translate(300.1,144.6) rotate(-45)" font-size="3.5" text-anchor="end" font-weight="bold" fill="#222" textLength="8.3" lengthAdjust="spacingAndGlyphs">2,500</text>
<line x1="309.4" y1="140" x2="309.4" y2="142" stroke="#000" stroke-width="0.9" />
<text transform="translate(310.4,144.6) rotate(-45)" font-size="3.5" text-anchor="end" font-weight="bold" fill="#222" textLength="8.3" lengthAdjust="spacingAndGlyphs">5,000</text>
<line x1="319.7" y1="140" x2="319.7" y2="142" stroke="#000" stroke-width="0.9" />
<text transform="translate(320.7,144.6) rotate(-45)" font-size="3.5" text-anchor="end" font-weight="bold" fill="#222" textLength="8.3" lengthAdjust="spacingAndGlyphs">7,500</text>
<line x1="330" y1="140" x2="330" y2="142" stroke="#000" stroke-width="0.9" />
<text transform="translate(331,144.6) rotate(-45)" font-size="3.5" text-anchor="end" font-weight="bold" fill="#222" textLength="9.88" lengthAdjust="spacingAndGlyphs">10,000</text>
<line x1="340.3" y1="140" x2="340.3" y2="142" stroke="#000" stroke-width="0.9" />
<text transform="translate(341.3,144.6) rotate(-45)" font-size="3.5" text-anchor="end" font-weight="bold" fill="#222" textLength="9.88" lengthAdjust="spacingAndGlyphs">12,500</text>
<line x1="350.6" y1="140" x2="350.6" y2="142" stroke="#000" stroke-width="0.9" />
<text transform="translate(351.6,144.6) rotate(-45)" font-size="3.5" text-anchor="end" font-weight="bold" fill="#222" textLength="9.88" lengthAdjust="spacingAndGlyphs">15,000</text>
<line x1="360.9" y1="140" x2="360.9" y2="142" stroke="#000" stroke-width="0.9" />
<text transform="translate(361.9,144.6) rotate(-45)" font-size="3.5" text-anchor="end" font-weight="bold" fill="#222" textLength="9.88" lengthAdjust="spacingAndGlyphs">17,500</text>
<line x1="371.2" y1="140" x2="371.2" y2="142" stroke="#000" stroke-width="0.9" />
<text transform="translate(372.2,144.6) rotate(-45)" font-size="3.5" text-anchor="end" font-weight="bold" fill="#222" textLength="9.88" lengthAdjust="spacingAndGlyphs">20,000</text>
<line x1="381.5" y1="140" x2="381.5" y2="142" stroke="#000" stroke-width="0.9" />
<text transform="translate(382.5,144.6) rotate(-45)" font-size="3.5" text-anchor="end" font-weight="bold" fill="#222" textLength="9.88" lengthAdjust="spacingAndGlyphs">22,500</text>
<text x="337.9" y="158.1" font-size="5.7" stroke="#111" stroke-width="0.1" text-anchor="middle" font-weight="bold" fill="#111" textLength="50.7" lengthAdjust="spacingAndGlyphs">Rank in ordered dataset</text>
<line x1="289.7" y1="163.6" x2="294.1" y2="163.6" stroke="#5c964b" stroke-width="0.7" />
<text x="295.5" y="164.7" font-size="3.1" fill="#444" textLength="27" lengthAdjust="spacingAndGlyphs">Enrichment profile</text>
<line x1="327" y1="163.6" x2="332" y2="163.6" stroke="#000" stroke-width="1.2" />
<text x="333.3" y="164.7" font-size="3.1" fill="#444" textLength="6" lengthAdjust="spacingAndGlyphs">Hits</text>
<path d="M343.5,162.3 L343.5,164 L348,164" stroke="#999" stroke-width="0.4" fill="none" />
<text x="349" y="164.7" font-size="3.1" fill="#444" textLength="36" lengthAdjust="spacingAndGlyphs">Ranking metric scores</text>
<text x="463.1" y="45" font-size="4.5" text-anchor="middle" font-weight="bold" fill="#1a1a1a" textLength="33.75" lengthAdjust="spacingAndGlyphs">Enrichment plot:</text>
<text x="463.1" y="49.9" font-size="4.5" text-anchor="middle" font-weight="bold" fill="#1a1a1a" textLength="93.25" lengthAdjust="spacingAndGlyphs">CROONQUIST_STROMAL_STIMULATION_UP</text>
<line x1="414.2" y1="89" x2="511.3" y2="89" stroke="#bbb" stroke-width="0.4" />
<line x1="411.6" y1="58.4" x2="414.2" y2="58.4" stroke="#000" stroke-width="1.2" />
<text x="410.6" y="59.6" font-size="3.3" text-anchor="end" fill="#444">0.5</text>
<line x1="411.6" y1="64.6" x2="414.2" y2="64.6" stroke="#000" stroke-width="1.2" />
<text x="410.6" y="65.8" font-size="3.3" text-anchor="end" fill="#444">0.4</text>
<line x1="411.6" y1="70.9" x2="414.2" y2="70.9" stroke="#000" stroke-width="1.2" />
<text x="410.6" y="72.1" font-size="3.3" text-anchor="end" fill="#444">0.3</text>
<line x1="411.6" y1="76.9" x2="414.2" y2="76.9" stroke="#000" stroke-width="1.2" />
<text x="410.6" y="78.1" font-size="3.3" text-anchor="end" fill="#444">0.2</text>
<line x1="411.6" y1="82.75" x2="414.2" y2="82.75" stroke="#000" stroke-width="1.2" />
<text x="410.6" y="83.95" font-size="3.3" text-anchor="end" fill="#444">0.1</text>
<line x1="411.6" y1="89" x2="414.2" y2="89" stroke="#000" stroke-width="1.2" />
<text x="410.6" y="90.2" font-size="3.3" text-anchor="end" fill="#444">0.0</text>
<text x="489.4" y="58.55" font-size="3.6" fill="#444" textLength="19" lengthAdjust="spacingAndGlyphs">NES = 1.957</text>
<text x="489.4" y="62.3" font-size="3.6" fill="#444" textLength="19" lengthAdjust="spacingAndGlyphs">P-val < 0.000</text>
<text x="489.4" y="66.3" font-size="3.6" fill="#444" textLength="19" lengthAdjust="spacingAndGlyphs">FDR = 0.004</text>
<rect x="415" y="95.3" width="1.5" height="13.45" fill="rgb(98,98,98)" />
<rect x="417.48" y="95.3" width="1.2" height="13.45" fill="rgb(86,86,86)" />
<rect x="419.44" y="95.3" width="1.8" height="13.45" fill="rgb(157,157,157)" />
<rect x="422.43" y="95.3" width="1.2" height="13.45" fill="rgb(117,117,117)" />
<rect x="424.39" y="95.3" width="1.8" height="13.45" fill="rgb(195,195,195)" />
<rect x="426.89" y="95.3" width="1.2" height="13.45" fill="rgb(139,139,139)" />
<rect x="429.61" y="95.3" width="1" height="13.45" fill="rgb(174,174,174)" />
<rect x="431.25" y="95.3" width="1.5" height="13.45" fill="rgb(164,164,164)" />
<rect x="434.2" y="95.3" width="1.2" height="13.45" fill="rgb(137,137,137)" />
<rect x="436.8" y="95.3" width="1" height="13.45" fill="rgb(176,176,176)" />
<rect x="439.08" y="95.3" width="1.2" height="13.45" fill="rgb(169,169,169)" />
<rect x="452.07" y="95.3" width="1" height="13.45" fill="rgb(181,181,181)" />
<rect x="455.39" y="95.3" width="0.8" height="13.45" fill="rgb(164,164,164)" />
<rect x="470.79" y="95.3" width="1.5" height="13.45" fill="rgb(193,193,193)" />
<rect x="485.04" y="95.3" width="1" height="13.45" fill="rgb(145,145,145)" />
<rect x="488.18" y="95.3" width="0.8" height="13.45" fill="rgb(192,192,192)" />
<rect x="490.26" y="95.3" width="1.5" height="13.45" fill="rgb(170,170,170)" />
<rect x="493.05" y="95.3" width="1.5" height="13.45" fill="rgb(101,101,101)" />
<rect x="496.15" y="95.3" width="1.2" height="13.45" fill="rgb(109,109,109)" />
<rect x="499.19" y="95.3" width="0.8" height="13.45" fill="rgb(158,158,158)" />
<rect x="500.9" y="95.3" width="1" height="13.45" fill="rgb(103,103,103)" />
<rect x="503.12" y="95.3" width="0.8" height="13.45" fill="rgb(121,121,121)" />
<rect x="505.17" y="95.3" width="1.2" height="13.45" fill="rgb(98,98,98)" />
<rect x="506.99" y="95.3" width="0.8" height="13.45" fill="rgb(186,186,186)" />
<defs><linearGradient id="g44" x1="0" x2="1" y1="0" y2="0"><stop offset="0" stop-color="#d63a50"/><stop offset="0.31" stop-color="#d8485e"/><stop offset="0.345" stop-color="#e6a6c0"/><stop offset="0.44" stop-color="#e8c4da"/><stop offset="0.47" stop-color="#d6cfe8"/><stop offset="0.655" stop-color="#bcb8e0"/><stop offset="0.69" stop-color="#4e4ea0"/><stop offset="1" stop-color="#2c2c88"/></linearGradient></defs>
<rect x="415.2" y="108.75" width="92.6" height="3.15" fill="url(#g44)" />
<text x="415.7" y="114.2" font-size="2.6" fill="#e06070" textLength="31" lengthAdjust="spacingAndGlyphs">SOX11-Pos (positively correlated)</text>
<text x="462.2" y="138.5" font-size="2.6" fill="#6a6ab0" textLength="35" lengthAdjust="spacingAndGlyphs">SOX11-Neg (negatively correlated)</text>
<path d="M414.7,78 L415.8,72 L416.9,68.6 L418.3,65.2 L419.8,62.7 L421.8,60.5 L423.8,58.8 L426.7,57.5 L429.3,55.5 L431.6,56.9 L435.1,55.9 L437.5,56.9 L455,67.6 L472.5,78.6 L485.5,86.9 L490.4,87.6 L492.5,87.4 L494.4,88.2 L496.5,89.8 L498.3,88.8 L500,90.4 L502.2,89.5 L503.5,91.2 L505.1,92.2 L506.2,89.5 L507.6,88.2" stroke="#5c964b" stroke-width="1.25" fill="none" stroke-linejoin="round"/>
<line x1="414.2" y1="130" x2="511.3" y2="130" stroke="#ccc" stroke-width="0.4" />
<path d="M415,127.5 L418,128.3 L425,129.2 L445,129.8 L500,130.1 L506,130.5 L508,132" stroke="#888" stroke-width="0.6" fill="none" />
<text x="452.2" y="129.4" font-size="2.4" fill="#777" textLength="14" lengthAdjust="spacingAndGlyphs">Zero cross at 9377</text>
<line x1="411.6" y1="114.4" x2="414.2" y2="114.4" stroke="#000" stroke-width="1.2" />
<text x="410.6" y="115.6" font-size="3.3" text-anchor="end" fill="#444">5.0</text>
<line x1="411.6" y1="122.25" x2="414.2" y2="122.25" stroke="#000" stroke-width="1.2" />
<text x="410.6" y="123.45" font-size="3.3" text-anchor="end" fill="#444">2.5</text>
<line x1="411.6" y1="130" x2="414.2" y2="130" stroke="#000" stroke-width="1.2" />
<text x="410.6" y="131.2" font-size="3.3" text-anchor="end" fill="#444">0.0</text>
<line x1="411.6" y1="137.75" x2="414.2" y2="137.75" stroke="#000" stroke-width="1.2" />
<text x="410.6" y="138.95" font-size="3.3" text-anchor="end" fill="#444">-2.5</text>
<text x="421.25" y="122.1" font-size="4.7" stroke="#111" stroke-width="0.12" font-weight="bold" fill="#111" textLength="22.5" lengthAdjust="spacingAndGlyphs">SOX11-Pos</text>
<text x="506.9" y="122.1" font-size="4.7" stroke="#111" stroke-width="0.12" text-anchor="end" font-weight="bold" fill="#111" textLength="23.9" lengthAdjust="spacingAndGlyphs">SOX11-Neg</text>
<path d="M414.2,53.5 L512.3,53.5 L512.3,140 L414.2,140 Z" fill="none" stroke="#111" stroke-width="1.45"/>
<text transform="translate(402.2,76) rotate(-90)" font-size="4.8" stroke="#222" stroke-width="0.12" text-anchor="middle" fill="#222" textLength="48" lengthAdjust="spacingAndGlyphs">Enrichment score (ES)</text>
<text transform="translate(395.2,126.4) rotate(-90)" font-size="4.8" stroke="#222" stroke-width="0.12" text-anchor="middle" fill="#222" textLength="37.5" lengthAdjust="spacingAndGlyphs">Ranked list metric</text>
<text transform="translate(401.4,125.6) rotate(-90)" font-size="4.8" stroke="#222" stroke-width="0.12" text-anchor="middle" fill="#222" textLength="26.5" lengthAdjust="spacingAndGlyphs">(PreRanked)</text>
<line x1="414.5" y1="140" x2="414.5" y2="142" stroke="#000" stroke-width="0.9" />
<text transform="translate(415.5,144.6) rotate(-45)" font-size="3.5" text-anchor="end" font-weight="bold" fill="#222" textLength="1.98" lengthAdjust="spacingAndGlyphs">0</text>
<line x1="424.8" y1="140" x2="424.8" y2="142" stroke="#000" stroke-width="0.9" />
<text transform="translate(425.8,144.6) rotate(-45)" font-size="3.5" text-anchor="end" font-weight="bold" fill="#222" textLength="8.3" lengthAdjust="spacingAndGlyphs">2,500</text>
<line x1="435.1" y1="140" x2="435.1" y2="142" stroke="#000" stroke-width="0.9" />
<text transform="translate(436.1,144.6) rotate(-45)" font-size="3.5" text-anchor="end" font-weight="bold" fill="#222" textLength="8.3" lengthAdjust="spacingAndGlyphs">5,000</text>
<line x1="445.4" y1="140" x2="445.4" y2="142" stroke="#000" stroke-width="0.9" />
<text transform="translate(446.4,144.6) rotate(-45)" font-size="3.5" text-anchor="end" font-weight="bold" fill="#222" textLength="8.3" lengthAdjust="spacingAndGlyphs">7,500</text>
<line x1="455.7" y1="140" x2="455.7" y2="142" stroke="#000" stroke-width="0.9" />
<text transform="translate(456.7,144.6) rotate(-45)" font-size="3.5" text-anchor="end" font-weight="bold" fill="#222" textLength="9.88" lengthAdjust="spacingAndGlyphs">10,000</text>
<line x1="466" y1="140" x2="466" y2="142" stroke="#000" stroke-width="0.9" />
<text transform="translate(467,144.6) rotate(-45)" font-size="3.5" text-anchor="end" font-weight="bold" fill="#222" textLength="9.88" lengthAdjust="spacingAndGlyphs">12,500</text>
<line x1="476.3" y1="140" x2="476.3" y2="142" stroke="#000" stroke-width="0.9" />
<text transform="translate(477.3,144.6) rotate(-45)" font-size="3.5" text-anchor="end" font-weight="bold" fill="#222" textLength="9.88" lengthAdjust="spacingAndGlyphs">15,000</text>
<line x1="486.6" y1="140" x2="486.6" y2="142" stroke="#000" stroke-width="0.9" />
<text transform="translate(487.6,144.6) rotate(-45)" font-size="3.5" text-anchor="end" font-weight="bold" fill="#222" textLength="9.88" lengthAdjust="spacingAndGlyphs">17,500</text>
<line x1="496.9" y1="140" x2="496.9" y2="142" stroke="#000" stroke-width="0.9" />
<text transform="translate(497.9,144.6) rotate(-45)" font-size="3.5" text-anchor="end" font-weight="bold" fill="#222" textLength="9.88" lengthAdjust="spacingAndGlyphs">20,000</text>
<line x1="507.2" y1="140" x2="507.2" y2="142" stroke="#000" stroke-width="0.9" />
<text transform="translate(508.2,144.6) rotate(-45)" font-size="3.5" text-anchor="end" font-weight="bold" fill="#222" textLength="9.88" lengthAdjust="spacingAndGlyphs">22,500</text>
<text x="463.25" y="158.1" font-size="5.7" stroke="#111" stroke-width="0.1" text-anchor="middle" font-weight="bold" fill="#111" textLength="50.7" lengthAdjust="spacingAndGlyphs">Rank in ordered dataset</text>
<line x1="415.4" y1="163.6" x2="419.8" y2="163.6" stroke="#5c964b" stroke-width="0.7" />
<text x="421.2" y="164.7" font-size="3.1" fill="#444" textLength="27" lengthAdjust="spacingAndGlyphs">Enrichment profile</text>
<line x1="452.7" y1="163.6" x2="457.7" y2="163.6" stroke="#000" stroke-width="1.2" />
<text x="459" y="164.7" font-size="3.1" fill="#444" textLength="6" lengthAdjust="spacingAndGlyphs">Hits</text>
<path d="M469.2,162.3 L469.2,164 L473.7,164" stroke="#999" stroke-width="0.4" fill="none" />
<text x="474.7" y="164.7" font-size="3.1" fill="#444" textLength="36" lengthAdjust="spacingAndGlyphs">Ranking metric scores</text>
<text x="7.3" y="184.7" font-size="12.2" stroke="#000" stroke-width="0.05" font-weight="bold">B</text>
<line x1="52.55" y1="180.5" x2="52.55" y2="268.3" stroke="#000" stroke-width="1.3" />
<line x1="51.05" y1="268.3" x2="54.25" y2="268.3" stroke="#000" stroke-width="1" />
<line x1="52.55" y1="274" x2="52.55" y2="293.9" stroke="#000" stroke-width="1.3" />
<line x1="48.95" y1="274" x2="54.25" y2="274" stroke="#000" stroke-width="1" />
<line x1="49.55" y1="183.4" x2="52.55" y2="183.4" stroke="#000" stroke-width="1.1" />
<text x="46.95" y="185.79" font-size="6.5" stroke="#333" stroke-width="0.05" text-anchor="end" fill="#333" textLength="9.2" lengthAdjust="spacingAndGlyphs">3.0</text>
<line x1="49.55" y1="198.1" x2="52.55" y2="198.1" stroke="#000" stroke-width="1.1" />
<text x="46.95" y="200.49" font-size="6.5" stroke="#333" stroke-width="0.05" text-anchor="end" fill="#333" textLength="9.2" lengthAdjust="spacingAndGlyphs">2.5</text>
<line x1="49.55" y1="212.8" x2="52.55" y2="212.8" stroke="#000" stroke-width="1.1" />
<text x="46.95" y="215.19" font-size="6.5" stroke="#333" stroke-width="0.05" text-anchor="end" fill="#333" textLength="9.2" lengthAdjust="spacingAndGlyphs">2.0</text>
<line x1="49.55" y1="227.5" x2="52.55" y2="227.5" stroke="#000" stroke-width="1.1" />
<text x="46.95" y="229.89" font-size="6.5" stroke="#333" stroke-width="0.05" text-anchor="end" fill="#333" textLength="9.2" lengthAdjust="spacingAndGlyphs">1.5</text>
<line x1="49.55" y1="242.2" x2="52.55" y2="242.2" stroke="#000" stroke-width="1.1" />
<text x="46.95" y="244.59" font-size="6.5" stroke="#333" stroke-width="0.05" text-anchor="end" fill="#333" textLength="9.2" lengthAdjust="spacingAndGlyphs">1.0</text>
<line x1="49.55" y1="256.9" x2="52.55" y2="256.9" stroke="#000" stroke-width="1.1" />
<text x="46.95" y="259.29" font-size="6.5" stroke="#333" stroke-width="0.05" text-anchor="end" fill="#333" textLength="9.2" lengthAdjust="spacingAndGlyphs">0.5</text>
<line x1="49.55" y1="274" x2="52.55" y2="274" stroke="#000" stroke-width="1.1" />
<text x="46.95" y="276.39" font-size="6.5" stroke="#333" stroke-width="0.05" text-anchor="end" fill="#333" textLength="9.2" lengthAdjust="spacingAndGlyphs">0.1</text>
<line x1="49.55" y1="293.3" x2="52.55" y2="293.3" stroke="#000" stroke-width="1.1" />
<text x="46.95" y="295.69" font-size="6.5" stroke="#333" stroke-width="0.05" text-anchor="end" fill="#333" textLength="9.2" lengthAdjust="spacingAndGlyphs">0.0</text>
<line x1="48.95" y1="293.3" x2="201.3" y2="293.3" stroke="#000" stroke-width="1.2" />
<line x1="67.3" y1="293.3" x2="67.3" y2="296.2" stroke="#000" stroke-width="1" />
<line x1="97.5" y1="293.3" x2="97.5" y2="296.2" stroke="#000" stroke-width="1" />
<line x1="127.3" y1="293.3" x2="127.3" y2="296.2" stroke="#000" stroke-width="1" />
<line x1="157" y1="293.3" x2="157" y2="296.2" stroke="#000" stroke-width="1" />
<line x1="187" y1="293.3" x2="187" y2="296.2" stroke="#000" stroke-width="1" />
<text transform="translate(30.6,237) rotate(-90)" font-size="7" stroke="#222" stroke-width="0.16" text-anchor="middle" fill="#222" textLength="109.3" lengthAdjust="spacingAndGlyphs">Fold enrichment relative to input</text>
<rect x="58.1" y="204.5" width="7.7" height="63.3" fill="#37654f" stroke="#1f4f3a" stroke-width="0.4"/>
<rect x="58.1" y="274.8" width="7.7" height="18.2" fill="#37654f" stroke="#1f4f3a" stroke-width="0.4"/>
<line x1="61.95" y1="204.5" x2="61.95" y2="202" stroke="#111" stroke-width="0.9" />
<line x1="59.95" y1="202" x2="63.95" y2="202" stroke="#111" stroke-width="0.9" />
<rect x="67.6" y="293" width="7.6" height="0" fill="#62401a" stroke="#40280e" stroke-width="0.4"/>
<rect x="88.2" y="200" width="7.6" height="67.8" fill="#37654f" stroke="#1f4f3a" stroke-width="0.4"/>
<rect x="88.2" y="274.8" width="7.6" height="18.2" fill="#37654f" stroke="#1f4f3a" stroke-width="0.4"/>
<line x1="92" y1="200" x2="92" y2="194.6" stroke="#111" stroke-width="0.9" />
<line x1="90" y1="194.6" x2="94" y2="194.6" stroke="#111" stroke-width="0.9" />
<rect x="99.4" y="286.3" width="7.6" height="6.7" fill="#62401a" stroke="#40280e" stroke-width="0.4"/>
<rect x="147.5" y="230.5" width="7.7" height="37.3" fill="#37654f" stroke="#1f4f3a" stroke-width="0.4"/>
<rect x="147.5" y="274.8" width="7.7" height="18.2" fill="#37654f" stroke="#1f4f3a" stroke-width="0.4"/>
<line x1="151.35" y1="230.5" x2="151.35" y2="229.6" stroke="#111" stroke-width="0.9" />
<line x1="149.35" y1="229.6" x2="153.35" y2="229.6" stroke="#111" stroke-width="0.9" />
<rect x="158.8" y="278" width="7.5" height="15" fill="#62401a" stroke="#40280e" stroke-width="0.4"/>
<rect x="177.5" y="210" width="7.7" height="57.8" fill="#37654f" stroke="#1f4f3a" stroke-width="0.4"/>
<rect x="177.5" y="274.8" width="7.7" height="18.2" fill="#37654f" stroke="#1f4f3a" stroke-width="0.4"/>
<line x1="181.35" y1="210" x2="181.35" y2="209.4" stroke="#111" stroke-width="0.9" />
<line x1="179.35" y1="209.4" x2="183.35" y2="209.4" stroke="#111" stroke-width="0.9" />
<rect x="188.6" y="288.5" width="7.6" height="4.5" fill="#62401a" stroke="#40280e" stroke-width="0.4"/>
<circle cx="64.72" cy="190.9" r="1.15" fill="#1a1a1a"/>
<circle cx="67.6" cy="190.9" r="1.15" fill="#1a1a1a"/>
<circle cx="70.48" cy="190.9" r="1.15" fill="#1a1a1a"/>
<line x1="62.2" y1="196.1" x2="73.2" y2="196.1" stroke="#111" stroke-width="1.1" />
<circle cx="94.52" cy="186" r="1.15" fill="#1a1a1a"/>
<circle cx="97.4" cy="186" r="1.15" fill="#1a1a1a"/>
<circle cx="100.28" cy="186" r="1.15" fill="#1a1a1a"/>
<line x1="92" y1="190.9" x2="103.5" y2="190.9" stroke="#111" stroke-width="1.1" />
<circle cx="154.22" cy="219.5" r="1.15" fill="#1a1a1a"/>
<circle cx="157.1" cy="219.5" r="1.15" fill="#1a1a1a"/>
<circle cx="159.98" cy="219.5" r="1.15" fill="#1a1a1a"/>
<line x1="151.7" y1="224.3" x2="162.5" y2="224.3" stroke="#111" stroke-width="1.1" />
<circle cx="184.22" cy="200.2" r="1.15" fill="#1a1a1a"/>
<circle cx="187.1" cy="200.2" r="1.15" fill="#1a1a1a"/>
<circle cx="189.98" cy="200.2" r="1.15" fill="#1a1a1a"/>
<line x1="181.7" y1="205.2" x2="192.5" y2="205.2" stroke="#111" stroke-width="1.1" />
<text x="67.3" y="305.3" font-size="6.6" stroke="#222" stroke-width="0.16" text-anchor="middle" fill="#222" textLength="19.6" lengthAdjust="spacingAndGlyphs">Peak 1</text>
<text x="97.5" y="305.3" font-size="6.6" stroke="#222" stroke-width="0.16" text-anchor="middle" fill="#222" textLength="19.6" lengthAdjust="spacingAndGlyphs">Peak 2</text>
<text x="157" y="305.3" font-size="6.6" stroke="#222" stroke-width="0.16" text-anchor="middle" fill="#222" textLength="19.6" lengthAdjust="spacingAndGlyphs">Peak 1</text>
<text x="187" y="305.3" font-size="6.6" stroke="#222" stroke-width="0.16" text-anchor="middle" fill="#222" textLength="19.6" lengthAdjust="spacingAndGlyphs">Peak 2</text>
<line x1="54.3" y1="308.8" x2="111" y2="308.8" stroke="#000" stroke-width="1.2" />
<line x1="143.8" y1="308.8" x2="199.6" y2="308.8" stroke="#000" stroke-width="1.2" />
<text x="83" y="319.9" font-size="8.7" stroke="#222" stroke-width="0.16" text-anchor="middle" font-style="italic" fill="#222" textLength="18.8" lengthAdjust="spacingAndGlyphs">PTK2</text>
<text x="172.1" y="319.9" font-size="8.7" stroke="#222" stroke-width="0.16" text-anchor="middle" font-style="italic" fill="#222" textLength="23.4" lengthAdjust="spacingAndGlyphs">CXCR4</text>
<rect x="211.2" y="222.3" width="8" height="4.2" fill="#37654f" stroke="#1f4f3a" stroke-width="0.4"/>
<text x="222.3" y="226.5" font-size="6.4" stroke="#222" stroke-width="0.16" fill="#222" textLength="14.6" lengthAdjust="spacingAndGlyphs">Z138</text>
<rect x="211.2" y="231.2" width="8" height="4.4" fill="#62401a" stroke="#40280e" stroke-width="0.4"/>
<text x="222.3" y="235.6" font-size="6.4" stroke="#222" stroke-width="0.16" fill="#222" textLength="15.8" lengthAdjust="spacingAndGlyphs">JVM2</text>
<text x="249.4" y="184.5" font-size="12.2" stroke="#000" stroke-width="0.05" font-weight="bold">C</text>
<line x1="306.5" y1="188.2" x2="306.5" y2="293.8" stroke="#000" stroke-width="1.1" />
<line x1="303.5" y1="192.32" x2="306.5" y2="192.32" stroke="#000" stroke-width="1.1" />
<text x="300.9" y="194.53" font-size="6" stroke="#333" stroke-width="0.05" text-anchor="end" fill="#333" textLength="10.1" lengthAdjust="spacingAndGlyphs">600</text>
<line x1="303.5" y1="209.15" x2="306.5" y2="209.15" stroke="#000" stroke-width="1.1" />
<text x="300.9" y="211.36" font-size="6" stroke="#333" stroke-width="0.05" text-anchor="end" fill="#333" textLength="10.1" lengthAdjust="spacingAndGlyphs">500</text>
<line x1="303.5" y1="225.98" x2="306.5" y2="225.98" stroke="#000" stroke-width="1.1" />
<text x="300.9" y="228.19" font-size="6" stroke="#333" stroke-width="0.05" text-anchor="end" fill="#333" textLength="10.1" lengthAdjust="spacingAndGlyphs">400</text>
<line x1="303.5" y1="242.81" x2="306.5" y2="242.81" stroke="#000" stroke-width="1.1" />
<text x="300.9" y="245.02" font-size="6" stroke="#333" stroke-width="0.05" text-anchor="end" fill="#333" textLength="10.1" lengthAdjust="spacingAndGlyphs">300</text>
<line x1="303.5" y1="259.64" x2="306.5" y2="259.64" stroke="#000" stroke-width="1.1" />
<text x="300.9" y="261.85" font-size="6" stroke="#333" stroke-width="0.05" text-anchor="end" fill="#333" textLength="10.1" lengthAdjust="spacingAndGlyphs">200</text>
<line x1="303.5" y1="276.47" x2="306.5" y2="276.47" stroke="#000" stroke-width="1.1" />
<text x="300.9" y="278.68" font-size="6" stroke="#333" stroke-width="0.05" text-anchor="end" fill="#333" textLength="10.1" lengthAdjust="spacingAndGlyphs">100</text>
<line x1="303.5" y1="293.3" x2="306.5" y2="293.3" stroke="#000" stroke-width="1.1" />
<text x="300.9" y="295.51" font-size="6" stroke="#333" stroke-width="0.05" text-anchor="end" fill="#333" textLength="3.4" lengthAdjust="spacingAndGlyphs">0</text>
<text transform="translate(273.4,240.5) rotate(-90)" font-size="8.7" stroke="#222" stroke-width="0.16" text-anchor="middle" fill="#222" textLength="63.3" lengthAdjust="spacingAndGlyphs">Relative luciferase</text>
<text transform="translate(282.3,240.5) rotate(-90)" font-size="8.7" stroke="#222" stroke-width="0.16" text-anchor="middle" fill="#222" textLength="84.3" lengthAdjust="spacingAndGlyphs">activity / pCDNA3-∅ (%)</text>
<line x1="306" y1="293.3" x2="438.7" y2="293.3" stroke="#000" stroke-width="1.2" />
<line x1="310.8" y1="293.3" x2="310.8" y2="295.8" stroke="#000" stroke-width="0.9" />
<line x1="319.4" y1="293.3" x2="319.4" y2="295.8" stroke="#000" stroke-width="0.9" />
<line x1="328" y1="293.3" x2="328" y2="295.8" stroke="#000" stroke-width="0.9" />
<line x1="336.6" y1="293.3" x2="336.6" y2="295.8" stroke="#000" stroke-width="0.9" />
<line x1="345.2" y1="293.3" x2="345.2" y2="295.8" stroke="#000" stroke-width="0.9" />
<line x1="353.8" y1="293.3" x2="353.8" y2="295.8" stroke="#000" stroke-width="0.9" />
<line x1="362.4" y1="293.3" x2="362.4" y2="295.8" stroke="#000" stroke-width="0.9" />
<line x1="371" y1="293.3" x2="371" y2="295.8" stroke="#000" stroke-width="0.9" />
<line x1="379.6" y1="293.3" x2="379.6" y2="295.8" stroke="#000" stroke-width="0.9" />
<line x1="388.2" y1="293.3" x2="388.2" y2="295.8" stroke="#000" stroke-width="0.9" />
<line x1="396.8" y1="293.3" x2="396.8" y2="295.8" stroke="#000" stroke-width="0.9" />
<line x1="405.4" y1="293.3" x2="405.4" y2="295.8" stroke="#000" stroke-width="0.9" />
<line x1="414" y1="293.3" x2="414" y2="295.8" stroke="#000" stroke-width="0.9" />
<line x1="422.6" y1="293.3" x2="422.6" y2="295.8" stroke="#000" stroke-width="0.9" />
<line x1="431.2" y1="293.3" x2="431.2" y2="295.8" stroke="#000" stroke-width="0.9" />
<rect x="307.7" y="275.63" width="6.2" height="17.67" fill="#c9c7cc" />
<line x1="310.8" y1="275.63" x2="310.8" y2="273.61" stroke="#111" stroke-width="0.8" />
<line x1="309.5" y1="273.61" x2="312.1" y2="273.61" stroke="#111" stroke-width="0.8" />
<rect x="316.3" y="209.65" width="6.2" height="83.65" fill="#37654f" />
<line x1="319.4" y1="209.65" x2="319.4" y2="207.64" stroke="#111" stroke-width="0.8" />
<line x1="318.1" y1="207.64" x2="320.7" y2="207.64" stroke="#111" stroke-width="0.8" />
<rect x="324.9" y="264.69" width="6.2" height="28.61" fill="#be0a70" />
<line x1="328" y1="264.69" x2="328" y2="263.01" stroke="#111" stroke-width="0.8" />
<line x1="326.7" y1="263.01" x2="329.3" y2="263.01" stroke="#111" stroke-width="0.8" />
<rect x="342.1" y="274.28" width="6.2" height="19.02" fill="#c9c7cc" />
<line x1="345.2" y1="274.28" x2="345.2" y2="273.61" stroke="#111" stroke-width="0.8" />
<line x1="343.9" y1="273.61" x2="346.5" y2="273.61" stroke="#111" stroke-width="0.8" />
<rect x="350.7" y="268.39" width="6.2" height="24.91" fill="#37654f" />
<line x1="353.8" y1="268.39" x2="353.8" y2="267.38" stroke="#111" stroke-width="0.8" />
<line x1="352.5" y1="267.38" x2="355.1" y2="267.38" stroke="#111" stroke-width="0.8" />
<rect x="359.3" y="270.58" width="6.2" height="22.72" fill="#be0a70" />
<line x1="362.4" y1="270.58" x2="362.4" y2="269.91" stroke="#111" stroke-width="0.8" />
<line x1="361.1" y1="269.91" x2="363.7" y2="269.91" stroke="#111" stroke-width="0.8" />
<rect x="376.5" y="276.47" width="6.2" height="16.83" fill="#c9c7cc" />
<line x1="379.6" y1="276.47" x2="379.6" y2="275.97" stroke="#111" stroke-width="0.8" />
<line x1="378.3" y1="275.97" x2="380.9" y2="275.97" stroke="#111" stroke-width="0.8" />
<rect x="385.1" y="261.66" width="6.2" height="31.64" fill="#37654f" />
<line x1="388.2" y1="261.66" x2="388.2" y2="260.82" stroke="#111" stroke-width="0.8" />
<line x1="386.9" y1="260.82" x2="389.5" y2="260.82" stroke="#111" stroke-width="0.8" />
<rect x="393.7" y="277.82" width="6.2" height="15.48" fill="#be0a70" />
<line x1="396.8" y1="277.82" x2="396.8" y2="277.31" stroke="#111" stroke-width="0.8" />
<line x1="395.5" y1="277.31" x2="398.1" y2="277.31" stroke="#111" stroke-width="0.8" />
<rect x="410.9" y="276.3" width="6.2" height="17" fill="#c9c7cc" />
<line x1="414" y1="276.3" x2="414" y2="275.63" stroke="#111" stroke-width="0.8" />
<line x1="412.7" y1="275.63" x2="415.3" y2="275.63" stroke="#111" stroke-width="0.8" />
<rect x="419.5" y="272.77" width="6.2" height="20.53" fill="#37654f" />
<line x1="422.6" y1="272.77" x2="422.6" y2="272.09" stroke="#111" stroke-width="0.8" />
<line x1="421.3" y1="272.09" x2="423.9" y2="272.09" stroke="#111" stroke-width="0.8" />
<rect x="428.1" y="269.23" width="6.2" height="24.07" fill="#be0a70" />
<line x1="431.2" y1="269.23" x2="431.2" y2="268.39" stroke="#111" stroke-width="0.8" />
<line x1="429.9" y1="268.39" x2="432.5" y2="268.39" stroke="#111" stroke-width="0.8" />
<circle cx="312.12" cy="197.4" r="1.15" fill="#1a1a1a"/>
<circle cx="315" cy="197.4" r="1.15" fill="#1a1a1a"/>
<circle cx="317.88" cy="197.4" r="1.15" fill="#1a1a1a"/>
<line x1="310.4" y1="200.9" x2="319.5" y2="200.9" stroke="#111" stroke-width="1.1" />
<circle cx="319.12" cy="190.3" r="1.15" fill="#1a1a1a"/>
<circle cx="322" cy="190.3" r="1.15" fill="#1a1a1a"/>
<circle cx="324.88" cy="190.3" r="1.15" fill="#1a1a1a"/>
<line x1="317.4" y1="193.7" x2="326.5" y2="193.7" stroke="#111" stroke-width="1.1" />
<circle cx="346.22" cy="258.75" r="1.15" fill="#1a1a1a"/>
<circle cx="349.1" cy="258.75" r="1.15" fill="#1a1a1a"/>
<circle cx="351.98" cy="258.75" r="1.15" fill="#1a1a1a"/>
<line x1="344.5" y1="263" x2="353.75" y2="263" stroke="#111" stroke-width="1.1" />
<circle cx="357.6" cy="253.4" r="1.15" fill="#1a1a1a"/>
<line x1="352" y1="256.4" x2="363" y2="256.4" stroke="#111" stroke-width="1.1" />
<circle cx="381.52" cy="253.25" r="1.15" fill="#1a1a1a"/>
<circle cx="384.4" cy="253.25" r="1.15" fill="#1a1a1a"/>
<circle cx="387.28" cy="253.25" r="1.15" fill="#1a1a1a"/>
<line x1="380" y1="257" x2="388.75" y2="257" stroke="#111" stroke-width="1.1" />
<circle cx="388.42" cy="247" r="1.15" fill="#1a1a1a"/>
<circle cx="391.3" cy="247" r="1.15" fill="#1a1a1a"/>
<circle cx="394.18" cy="247" r="1.15" fill="#1a1a1a"/>
<line x1="387" y1="250.5" x2="395.5" y2="250.5" stroke="#111" stroke-width="1.1" />
<circle cx="415.92" cy="264.5" r="1.15" fill="#1a1a1a"/>
<circle cx="418.8" cy="264.5" r="1.15" fill="#1a1a1a"/>
<circle cx="421.68" cy="264.5" r="1.15" fill="#1a1a1a"/>
<line x1="414.5" y1="268" x2="423" y2="268" stroke="#111" stroke-width="1.1" />
<circle cx="425.36" cy="257.5" r="1.15" fill="#1a1a1a"/>
<circle cx="428.24" cy="257.5" r="1.15" fill="#1a1a1a"/>
<line x1="421" y1="261" x2="432.5" y2="261" stroke="#111" stroke-width="1.1" />
<line x1="320.3" y1="176.2" x2="320.3" y2="180.8" stroke="#641830" stroke-width="1.2" />
<path d="M318.6,180.2 L322,180.2 L320.3,184 Z" stroke="none" stroke-width="0" fill="#641830" />
<line x1="388.3" y1="233.8" x2="388.3" y2="238.4" stroke="#641830" stroke-width="1.2" />
<path d="M386.6,237.8 L390,237.8 L388.3,241.6 Z" stroke="none" stroke-width="0" fill="#641830" />
<text transform="translate(311.8,302.4) rotate(-45)" font-size="6.4" stroke="#222" stroke-width="0.16" text-anchor="end" fill="#222">pCDNA3</text>
<text transform="translate(320.4,302.4) rotate(-45)" font-size="6.4" stroke="#222" stroke-width="0.16" text-anchor="end" fill="#222">SOX11 WT</text>
<text transform="translate(329,302.4) rotate(-45)" font-size="6.4" stroke="#222" stroke-width="0.16" text-anchor="end" fill="#222">SOX11 ΔHMG</text>
<text transform="translate(346.2,302.4) rotate(-45)" font-size="6.4" stroke="#222" stroke-width="0.16" text-anchor="end" fill="#222">pCDNA3</text>
<text transform="translate(354.8,302.4) rotate(-45)" font-size="6.4" stroke="#222" stroke-width="0.16" text-anchor="end" fill="#222">SOX11 WT</text>
<text transform="translate(363.4,302.4) rotate(-45)" font-size="6.4" stroke="#222" stroke-width="0.16" text-anchor="end" fill="#222">SOX11 ΔHMG</text>
<text transform="translate(380.6,302.4) rotate(-45)" font-size="6.4" stroke="#222" stroke-width="0.16" text-anchor="end" fill="#222">pCDNA3</text>
<text transform="translate(389.2,302.4) rotate(-45)" font-size="6.4" stroke="#222" stroke-width="0.16" text-anchor="end" fill="#222">SOX11 WT</text>
<text transform="translate(397.8,302.4) rotate(-45)" font-size="6.4" stroke="#222" stroke-width="0.16" text-anchor="end" fill="#222">SOX11 ΔHMG</text>
<text transform="translate(415,302.4) rotate(-45)" font-size="6.4" stroke="#222" stroke-width="0.16" text-anchor="end" fill="#222">pCDNA3</text>
<text transform="translate(423.6,302.4) rotate(-45)" font-size="6.4" stroke="#222" stroke-width="0.16" text-anchor="end" fill="#222">SOX11 WT</text>
<text transform="translate(432.2,302.4) rotate(-45)" font-size="6.4" stroke="#222" stroke-width="0.16" text-anchor="end" fill="#222">SOX11 ΔHMG</text>
<line x1="305.3" y1="333.4" x2="333.5" y2="333.4" stroke="#000" stroke-width="1.1" />
<text x="319.4" y="340.8" font-size="6.4" stroke="#222" stroke-width="0.16" text-anchor="middle" font-style="italic" fill="#222" textLength="19.8" lengthAdjust="spacingAndGlyphs">Peak 1</text>
<line x1="339.7" y1="333.4" x2="367.9" y2="333.4" stroke="#000" stroke-width="1.1" />
<text x="353.8" y="340.8" font-size="6.4" stroke="#222" stroke-width="0.16" text-anchor="middle" font-style="italic" fill="#222" textLength="19.8" lengthAdjust="spacingAndGlyphs">Peak 2</text>
<line x1="374.1" y1="333.4" x2="402.3" y2="333.4" stroke="#000" stroke-width="1.1" />
<text x="388.2" y="340.8" font-size="6.4" stroke="#222" stroke-width="0.16" text-anchor="middle" font-style="italic" fill="#222" textLength="19.8" lengthAdjust="spacingAndGlyphs">Peak 1</text>
<line x1="408.5" y1="333.4" x2="436.7" y2="333.4" stroke="#000" stroke-width="1.1" />
<text x="422.6" y="340.8" font-size="6.4" stroke="#222" stroke-width="0.16" text-anchor="middle" font-style="italic" fill="#222" textLength="19.8" lengthAdjust="spacingAndGlyphs">Peak 2</text>
<line x1="305.3" y1="344.2" x2="367.9" y2="344.2" stroke="#000" stroke-width="1.1" />
<line x1="374.1" y1="344.2" x2="436.7" y2="344.2" stroke="#000" stroke-width="1.1" />
<text x="336.6" y="351.6" font-size="6.6" stroke="#222" stroke-width="0.16" text-anchor="middle" font-style="italic" fill="#222" textLength="65.7" lengthAdjust="spacingAndGlyphs">PTK2-Enh-GL4.23Luc</text>
<text x="405.4" y="351.6" font-size="6.6" stroke="#222" stroke-width="0.16" text-anchor="middle" font-style="italic" fill="#222" textLength="69.2" lengthAdjust="spacingAndGlyphs">CXCR4-Enh-GL4.23Luc</text>
<text x="7.3" y="372.3" font-size="12.2" stroke="#000" stroke-width="0.05" font-weight="bold">D</text>
<text transform="translate(47.9,413.4) rotate(-45)" font-size="7.1" stroke="#222" stroke-width="0.16" fill="#222">Z138CT</text>
<text transform="translate(68.1,413.4) rotate(-45)" font-size="7.1" stroke="#222" stroke-width="0.16" fill="#222">Z138KD</text>
<text transform="translate(90.2,413.4) rotate(-45)" font-size="7.1" stroke="#222" stroke-width="0.16" fill="#222">JVM2CT</text>
<text transform="translate(111.4,413.4) rotate(-45)" font-size="7.1" stroke="#222" stroke-width="0.16" fill="#222">JVM2SOX11+</text>
<defs><filter id="bl" x="-20%" y="-100%" width="140%" height="300%"><feGaussianBlur stdDeviation="0.7"/></filter><filter id="bl2" x="-20%" y="-100%" width="140%" height="300%"><feGaussianBlur stdDeviation="1.1"/></filter></defs>
<rect x="34.1" y="417.5" width="85.1" height="13.4" fill="#fbfbfb" stroke="#444" stroke-width="0.9"/>
<rect x="34.1" y="434.1" width="85.1" height="29.2" fill="#fbfbfb" stroke="#444" stroke-width="0.9"/>
<rect x="34.1" y="467.6" width="85.1" height="20.6" fill="#fbfbfb" stroke="#444" stroke-width="0.9"/>
<rect x="39.5" y="435" width="14" height="27.5" fill="#f0f0f0" filter="url(#bl2)"/>
<rect x="60.5" y="435" width="14" height="27.5" fill="#f0f0f0" filter="url(#bl2)"/>
<defs><linearGradient id="sm" x1="0" x2="0" y1="0" y2="1"><stop offset="0" stop-color="#aaa"/><stop offset="0.4" stop-color="#e2e2e2"/><stop offset="1" stop-color="#f8f8f8"/></linearGradient></defs>
<rect x="100.8" y="445" width="13.4" height="15" fill="url(#sm)" filter="url(#bl)"/>
<g filter="url(#bl)">
<rect x="39.1" y="425" width="14.7" height="2.8" fill="#2e2e2e" />
<rect x="60.2" y="425.4" width="14.6" height="2.2" fill="#959595" />
<rect x="82" y="425.4" width="13" height="2" fill="#ececec" />
<rect x="101.3" y="424.6" width="12.8" height="2.4" fill="#cccccc" />
<rect x="39.1" y="446.8" width="14.7" height="3.6" fill="#0a0a0a" />
<rect x="60.2" y="447.6" width="14.6" height="2.8" fill="#8a8a8a" />
<rect x="100.4" y="441.4" width="14.1" height="5.6" fill="#000" />
<path d="M38.8,474.6 Q46.3,477.4 53.8,474.6 L53.8,478.4 Q46.3,481 38.8,478.4 Z" stroke="none" stroke-width="0" fill="#6a6a6a" />
<path d="M60.2,475 Q68.7,478 77.2,475 L77.2,478.8 Q68.7,481.6 60.2,478.8 Z" stroke="none" stroke-width="0" fill="#6a6a6a" />
<rect x="82.1" y="475" width="12.8" height="2.8" fill="#4a4a4a" />
<rect x="100.4" y="474.2" width="13.3" height="2.8" fill="#4a4a4a" />
</g>
<text x="122.5" y="430.2" font-size="7.3" stroke="#111" stroke-width="0.16" fill="#111" textLength="15" lengthAdjust="spacingAndGlyphs">FAK</text>
<text x="122.5" y="450.8" font-size="7.3" stroke="#111" stroke-width="0.16" fill="#111" textLength="23.7" lengthAdjust="spacingAndGlyphs">SOX11</text>
<text x="122.5" y="480.6" font-size="7.3" stroke="#111" stroke-width="0.16" fill="#111" textLength="16.5" lengthAdjust="spacingAndGlyphs">Actin</text>
<line x1="195.9" y1="407" x2="195.9" y2="488.9" stroke="#000" stroke-width="1.1" />
<line x1="192.9" y1="408.6" x2="195.9" y2="408.6" stroke="#000" stroke-width="1.1" />
<text x="190.3" y="410.81" font-size="6" stroke="#333" stroke-width="0.05" text-anchor="end" fill="#333" textLength="10.1" lengthAdjust="spacingAndGlyphs">120</text>
<line x1="192.9" y1="421.9" x2="195.9" y2="421.9" stroke="#000" stroke-width="1.1" />
<text x="190.3" y="424.11" font-size="6" stroke="#333" stroke-width="0.05" text-anchor="end" fill="#333" textLength="10.1" lengthAdjust="spacingAndGlyphs">100</text>
<line x1="192.9" y1="435.2" x2="195.9" y2="435.2" stroke="#000" stroke-width="1.1" />
<text x="190.3" y="437.41" font-size="6" stroke="#333" stroke-width="0.05" text-anchor="end" fill="#333" textLength="6.7" lengthAdjust="spacingAndGlyphs">80</text>
<line x1="192.9" y1="448.5" x2="195.9" y2="448.5" stroke="#000" stroke-width="1.1" />
<text x="190.3" y="450.71" font-size="6" stroke="#333" stroke-width="0.05" text-anchor="end" fill="#333" textLength="6.7" lengthAdjust="spacingAndGlyphs">60</text>
<line x1="192.9" y1="461.8" x2="195.9" y2="461.8" stroke="#000" stroke-width="1.1" />
<text x="190.3" y="464.01" font-size="6" stroke="#333" stroke-width="0.05" text-anchor="end" fill="#333" textLength="6.7" lengthAdjust="spacingAndGlyphs">40</text>
<line x1="192.9" y1="475.1" x2="195.9" y2="475.1" stroke="#000" stroke-width="1.1" />
<text x="190.3" y="477.31" font-size="6" stroke="#333" stroke-width="0.05" text-anchor="end" fill="#333" textLength="6.7" lengthAdjust="spacingAndGlyphs">20</text>
<line x1="192.9" y1="488.4" x2="195.9" y2="488.4" stroke="#000" stroke-width="1.1" />
<text x="190.3" y="490.61" font-size="6" stroke="#333" stroke-width="0.05" text-anchor="end" fill="#333" textLength="3.4" lengthAdjust="spacingAndGlyphs">0</text>
<line x1="195.4" y1="488.4" x2="290.3" y2="488.4" stroke="#000" stroke-width="1.2" />
<line x1="207.75" y1="488.4" x2="207.75" y2="491" stroke="#000" stroke-width="1" />
<line x1="207.75" y1="421.9" x2="207.75" y2="411.92" stroke="#111" stroke-width="1.1" />
<line x1="204" y1="411.92" x2="211.5" y2="411.92" stroke="#111" stroke-width="1.1" />
<rect x="200.05" y="421.9" width="15.4" height="66.5" fill="#522363" />
<line x1="231.9" y1="488.4" x2="231.9" y2="491" stroke="#000" stroke-width="1" />
<line x1="231.9" y1="447.83" x2="231.9" y2="439.85" stroke="#111" stroke-width="1.1" />
<line x1="228.15" y1="439.85" x2="235.65" y2="439.85" stroke="#111" stroke-width="1.1" />
<rect x="224.2" y="447.83" width="15.4" height="40.56" fill="#e9bc1f" />
<line x1="255.9" y1="488.4" x2="255.9" y2="491" stroke="#000" stroke-width="1" />
<line x1="255.9" y1="477.09" x2="255.9" y2="468.45" stroke="#111" stroke-width="1.1" />
<line x1="252.15" y1="468.45" x2="259.65" y2="468.45" stroke="#111" stroke-width="1.1" />
<rect x="248.2" y="477.09" width="15.4" height="11.31" fill="#e9bc1f" />
<line x1="280" y1="488.4" x2="280" y2="491" stroke="#000" stroke-width="1" />
<line x1="280" y1="465.12" x2="280" y2="461.13" stroke="#111" stroke-width="1.1" />
<line x1="276.25" y1="461.13" x2="283.75" y2="461.13" stroke="#111" stroke-width="1.1" />
<rect x="272.3" y="465.12" width="15.4" height="23.27" fill="#522363" />
<circle cx="231.06" cy="395.4" r="1.15" fill="#1a1a1a"/>
<circle cx="233.94" cy="395.4" r="1.15" fill="#1a1a1a"/>
<line x1="209.3" y1="398.3" x2="256.3" y2="398.3" stroke="#111" stroke-width="1.1" />
<circle cx="220.5" cy="402.6" r="1.15" fill="#1a1a1a"/>
<line x1="209.3" y1="405.5" x2="233.3" y2="405.5" stroke="#111" stroke-width="1.1" />
<circle cx="267" cy="445.6" r="1.15" fill="#1a1a1a"/>
<line x1="255" y1="448.8" x2="279.3" y2="448.8" stroke="#111" stroke-width="1.1" />
<text transform="translate(161.2,447) rotate(-90)" font-size="7.6" stroke="#222" stroke-width="0.16" text-anchor="middle" fill="#222" textLength="68.2" lengthAdjust="spacingAndGlyphs">Relative FAK protein</text>
<text transform="translate(171.3,447.4) rotate(-90)" font-size="7.6" stroke="#222" stroke-width="0.16" text-anchor="middle" fill="#222" textLength="64.7" lengthAdjust="spacingAndGlyphs">levels/ Z138CT (%)</text>
<text transform="translate(210.35,496.6) rotate(-45)" font-size="6.4" stroke="#222" stroke-width="0.16" text-anchor="end" fill="#222">Z138CT</text>
<text transform="translate(234.5,496.6) rotate(-45)" font-size="6.4" stroke="#222" stroke-width="0.16" text-anchor="end" fill="#222">Z138KD</text>
<text transform="translate(258.5,496.6) rotate(-45)" font-size="6.4" stroke="#222" stroke-width="0.16" text-anchor="end" fill="#222">JVM2CT</text>
<text transform="translate(282.6,496.6) rotate(-45)" font-size="6.4" stroke="#222" stroke-width="0.16" text-anchor="end" fill="#222">JVM2SOX11+</text>
<text x="301.4" y="372.3" font-size="12.2" stroke="#000" stroke-width="0.05" font-weight="bold">E</text>
<line x1="358.4" y1="371.5" x2="358.4" y2="445.3" stroke="#000" stroke-width="1.1" />
<line x1="356.8" y1="445.3" x2="360" y2="445.3" stroke="#000" stroke-width="1" />
<line x1="358.4" y1="450.4" x2="358.4" y2="488.9" stroke="#000" stroke-width="1.1" />
<line x1="355.2" y1="450.4" x2="360" y2="450.4" stroke="#000" stroke-width="1" />
<line x1="355.4" y1="374.6" x2="358.4" y2="374.6" stroke="#000" stroke-width="1.1" />
<text x="352.8" y="376.81" font-size="6" stroke="#333" stroke-width="0.05" text-anchor="end" fill="#333" textLength="14.1" lengthAdjust="spacingAndGlyphs">5000</text>
<line x1="355.4" y1="394.9" x2="358.4" y2="394.9" stroke="#000" stroke-width="1.1" />
<text x="352.8" y="397.11" font-size="6" stroke="#333" stroke-width="0.05" text-anchor="end" fill="#333" textLength="14.1" lengthAdjust="spacingAndGlyphs">4000</text>
<line x1="355.4" y1="415.2" x2="358.4" y2="415.2" stroke="#000" stroke-width="1.1" />
<text x="352.8" y="417.41" font-size="6" stroke="#333" stroke-width="0.05" text-anchor="end" fill="#333" textLength="14.1" lengthAdjust="spacingAndGlyphs">3000</text>
<line x1="355.4" y1="435.5" x2="358.4" y2="435.5" stroke="#000" stroke-width="1.1" />
<text x="352.8" y="437.71" font-size="6" stroke="#333" stroke-width="0.05" text-anchor="end" fill="#333" textLength="14.1" lengthAdjust="spacingAndGlyphs">2000</text>
<line x1="355.4" y1="451.4" x2="358.4" y2="451.4" stroke="#000" stroke-width="1.1" />
<text x="352.8" y="453.61" font-size="6" stroke="#333" stroke-width="0.05" text-anchor="end" fill="#333" textLength="10.6" lengthAdjust="spacingAndGlyphs">400</text>
<line x1="355.4" y1="469.9" x2="358.4" y2="469.9" stroke="#000" stroke-width="1.1" />
<text x="352.8" y="472.11" font-size="6" stroke="#333" stroke-width="0.05" text-anchor="end" fill="#333" textLength="10.6" lengthAdjust="spacingAndGlyphs">200</text>
<line x1="355.4" y1="488.4" x2="358.4" y2="488.4" stroke="#000" stroke-width="1.1" />
<text x="352.8" y="490.61" font-size="6" stroke="#333" stroke-width="0.05" text-anchor="end" fill="#333" textLength="3.5" lengthAdjust="spacingAndGlyphs">0</text>
<line x1="357.9" y1="488.4" x2="490" y2="488.4" stroke="#000" stroke-width="1.2" />
<line x1="366.6" y1="488.4" x2="366.6" y2="491" stroke="#000" stroke-width="0.9" />
<line x1="379.6" y1="488.4" x2="379.6" y2="491" stroke="#000" stroke-width="0.9" />
<line x1="392.6" y1="488.4" x2="392.6" y2="491" stroke="#000" stroke-width="0.9" />
<line x1="405.6" y1="488.4" x2="405.6" y2="491" stroke="#000" stroke-width="0.9" />
<line x1="418.6" y1="488.4" x2="418.6" y2="491" stroke="#000" stroke-width="0.9" />
<line x1="431.6" y1="488.4" x2="431.6" y2="491" stroke="#000" stroke-width="0.9" />
<line x1="444.6" y1="488.4" x2="444.6" y2="491" stroke="#000" stroke-width="0.9" />
<line x1="457.6" y1="488.4" x2="457.6" y2="491" stroke="#000" stroke-width="0.9" />
<line x1="470.6" y1="488.4" x2="470.6" y2="491" stroke="#000" stroke-width="0.9" />
<line x1="483.6" y1="488.4" x2="483.6" y2="491" stroke="#000" stroke-width="0.9" />
<rect x="362.2" y="475.82" width="8.8" height="12.58" fill="#c9c7cc" />
<line x1="366.6" y1="475.82" x2="366.6" y2="474.99" stroke="#111" stroke-width="1" />
<line x1="364.8" y1="474.99" x2="368.4" y2="474.99" stroke="#111" stroke-width="1" />
<rect x="388.2" y="468.6" width="8.8" height="19.8" fill="#522363" />
<rect x="401.2" y="469.62" width="8.8" height="18.78" fill="#e9bc1f" />
<rect x="427.2" y="399.24" width="8.8" height="46.26" fill="#522363" />
<rect x="427.2" y="451.2" width="8.8" height="37.2" fill="#522363" />
<line x1="431.6" y1="399.24" x2="431.6" y2="392.99" stroke="#111" stroke-width="1" />
<line x1="429.8" y1="392.99" x2="433.4" y2="392.99" stroke="#111" stroke-width="1" />
<rect x="440.2" y="430.02" width="8.8" height="15.48" fill="#e9bc1f" />
<rect x="440.2" y="451.2" width="8.8" height="37.2" fill="#e9bc1f" />
<rect x="466.2" y="466.57" width="8.8" height="21.83" fill="#e9bc1f" />
<line x1="470.6" y1="466.57" x2="470.6" y2="464.16" stroke="#111" stroke-width="1" />
<line x1="468.8" y1="464.16" x2="472.4" y2="464.16" stroke="#111" stroke-width="1" />
<rect x="479.2" y="455.19" width="8.8" height="33.21" fill="#522363" />
<circle cx="411.62" cy="375.2" r="1.15" fill="#1a1a1a"/>
<circle cx="414.5" cy="375.2" r="1.15" fill="#1a1a1a"/>
<circle cx="417.38" cy="375.2" r="1.15" fill="#1a1a1a"/>
<line x1="396.3" y1="378.3" x2="433.8" y2="378.3" stroke="#111" stroke-width="1.1" />
<circle cx="438.56" cy="383.6" r="1.15" fill="#1a1a1a"/>
<circle cx="441.44" cy="383.6" r="1.15" fill="#1a1a1a"/>
<line x1="432" y1="386.3" x2="448" y2="386.3" stroke="#111" stroke-width="1.1" />
<circle cx="476.56" cy="446.2" r="1.15" fill="#1a1a1a"/>
<circle cx="479.44" cy="446.2" r="1.15" fill="#1a1a1a"/>
<line x1="470.5" y1="448.8" x2="486.3" y2="448.8" stroke="#111" stroke-width="1.1" />
<text transform="translate(331.1,429.3) rotate(-90)" font-size="7.8" stroke="#222" stroke-width="0.16" text-anchor="middle" fill="#222" textLength="128.9" lengthAdjust="spacingAndGlyphs">CXCR4 mean fluorescence expression</text>
<text transform="translate(368.5,497) rotate(-45)" font-size="6.3" stroke="#222" stroke-width="0.16" text-anchor="end" fill="#222">Isotype</text>
<text transform="translate(394.5,497) rotate(-45)" font-size="6.3" stroke="#222" stroke-width="0.16" text-anchor="end" fill="#222">Granta519CT</text>
<text transform="translate(407.5,497) rotate(-45)" font-size="6.3" stroke="#222" stroke-width="0.16" text-anchor="end" fill="#222">Granta519KD</text>
<text transform="translate(433.5,497) rotate(-45)" font-size="6.3" stroke="#222" stroke-width="0.16" text-anchor="end" fill="#222">Z138CT</text>
<text transform="translate(446.5,497) rotate(-45)" font-size="6.3" stroke="#222" stroke-width="0.16" text-anchor="end" fill="#222">Z138KD</text>
<text transform="translate(472.5,497) rotate(-45)" font-size="6.3" stroke="#222" stroke-width="0.16" text-anchor="end" fill="#222">JVM2CT</text>
<text transform="translate(485.5,497) rotate(-45)" font-size="6.3" stroke="#222" stroke-width="0.16" text-anchor="end" fill="#222">JVM2SOX11+</text>
<text x="7.6" y="547" font-size="12.2" stroke="#000" stroke-width="0.05" font-weight="bold">F</text>
<line x1="52.55" y1="545.4" x2="52.55" y2="671" stroke="#000" stroke-width="1.1" />
<line x1="49.55" y1="548.5" x2="52.55" y2="548.5" stroke="#000" stroke-width="1.1" />
<text x="46.95" y="550.71" font-size="6" stroke="#333" stroke-width="0.05" text-anchor="end" fill="#333" textLength="6.6" lengthAdjust="spacingAndGlyphs">10</text>
<line x1="49.55" y1="572.9" x2="52.55" y2="572.9" stroke="#000" stroke-width="1.1" />
<text x="46.95" y="575.11" font-size="6" stroke="#333" stroke-width="0.05" text-anchor="end" fill="#333" textLength="3.4" lengthAdjust="spacingAndGlyphs">8</text>
<line x1="49.55" y1="597.3" x2="52.55" y2="597.3" stroke="#000" stroke-width="1.1" />
<text x="46.95" y="599.51" font-size="6" stroke="#333" stroke-width="0.05" text-anchor="end" fill="#333" textLength="3.4" lengthAdjust="spacingAndGlyphs">6</text>
<line x1="49.55" y1="621.7" x2="52.55" y2="621.7" stroke="#000" stroke-width="1.1" />
<text x="46.95" y="623.91" font-size="6" stroke="#333" stroke-width="0.05" text-anchor="end" fill="#333" textLength="3.4" lengthAdjust="spacingAndGlyphs">4</text>
<line x1="49.55" y1="646.1" x2="52.55" y2="646.1" stroke="#000" stroke-width="1.1" />
<text x="46.95" y="648.31" font-size="6" stroke="#333" stroke-width="0.05" text-anchor="end" fill="#333" textLength="3.4" lengthAdjust="spacingAndGlyphs">2</text>
<line x1="49.55" y1="670.5" x2="52.55" y2="670.5" stroke="#000" stroke-width="1.1" />
<text x="46.95" y="672.71" font-size="6" stroke="#333" stroke-width="0.05" text-anchor="end" fill="#333" textLength="3.4" lengthAdjust="spacingAndGlyphs">0</text>
<line x1="52.05" y1="670.5" x2="200.9" y2="670.5" stroke="#000" stroke-width="1.2" />
<line x1="89.3" y1="670.5" x2="89.3" y2="673.2" stroke="#000" stroke-width="1" />
<line x1="164.6" y1="670.5" x2="164.6" y2="673.2" stroke="#000" stroke-width="1" />
<text transform="translate(34.5,608.3) rotate(-90)" font-size="7.5" stroke="#222" stroke-width="0.16" text-anchor="middle" fill="#222" textLength="74.3" lengthAdjust="spacingAndGlyphs">PTK2 probe set signal</text>
<text x="89.4" y="679.9" font-size="6.5" stroke="#222" stroke-width="0.16" text-anchor="middle" fill="#222" textLength="49" lengthAdjust="spacingAndGlyphs">SOX11-pos MCL</text>
<text x="89.6" y="687.6" font-size="6.5" stroke="#222" stroke-width="0.16" text-anchor="middle" fill="#222" textLength="18.9" lengthAdjust="spacingAndGlyphs">(n=14)</text>
<text x="164.2" y="679.9" font-size="6.5" stroke="#222" stroke-width="0.16" text-anchor="middle" fill="#222" textLength="49.3" lengthAdjust="spacingAndGlyphs">SOX11-neg MCL</text>
<text x="164.7" y="687.6" font-size="6.5" stroke="#222" stroke-width="0.16" text-anchor="middle" fill="#222" textLength="19.7" lengthAdjust="spacingAndGlyphs">(n=20)</text>
<circle cx="126.56" cy="545.6" r="1.15" fill="#1a1a1a"/>
<circle cx="129.44" cy="545.6" r="1.15" fill="#1a1a1a"/>
<line x1="91.3" y1="550.6" x2="166.3" y2="550.6" stroke="#111" stroke-width="1.1" />
<line x1="89.4" y1="569.2" x2="89.4" y2="585.6" stroke="#522363" stroke-width="0.8" />
<line x1="77.3" y1="569.2" x2="102.7" y2="569.2" stroke="#4a2a5e" stroke-width="1.2" />
<line x1="77.3" y1="585.6" x2="102.7" y2="585.6" stroke="#4a2a5e" stroke-width="1.2" />
<circle cx="87.3" cy="564" r="2" fill="#36164a" />
<circle cx="92.6" cy="562.5" r="2" fill="#36164a" />
<circle cx="87.1" cy="568" r="2" fill="#36164a" />
<circle cx="92.6" cy="569.4" r="2" fill="#36164a" />
<circle cx="81.9" cy="577.3" r="2" fill="#36164a" />
<circle cx="87.3" cy="576.1" r="2" fill="#36164a" />
<circle cx="92.6" cy="575.4" r="2" fill="#36164a" />
<circle cx="87.3" cy="581.3" r="2" fill="#36164a" />
<circle cx="92.6" cy="582.3" r="2" fill="#36164a" />
<circle cx="97.1" cy="580.1" r="2" fill="#36164a" />
<circle cx="97.1" cy="582.7" r="2" fill="#36164a" />
<circle cx="81.9" cy="583.6" r="2" fill="#36164a" />
<circle cx="87.3" cy="588.4" r="2" fill="#36164a" />
<circle cx="92.6" cy="586.7" r="2" fill="#36164a" />
<line x1="64.8" y1="576.7" x2="114.2" y2="576.7" stroke="#111" stroke-width="1.4" />
<line x1="163.8" y1="569" x2="163.8" y2="613.3" stroke="#e9bc1f" stroke-width="0.8" />
<line x1="152" y1="613.3" x2="176" y2="613.3" stroke="#e9bc1f" stroke-width="1.1" />
<line x1="152" y1="568.6" x2="176" y2="568.6" stroke="#e9bc1f" stroke-width="1.1" />
<rect x="151.85" y="567.55" width="3.3" height="3.3" fill="#e2c020" stroke="#cfae14" stroke-width="0.4"/>
<rect x="151.85" y="569.85" width="3.3" height="3.3" fill="#e2c020" stroke="#cfae14" stroke-width="0.4"/>
<rect x="154.65" y="567.05" width="3.3" height="3.3" fill="#e2c020" stroke="#cfae14" stroke-width="0.4"/>
<rect x="159.65" y="569.35" width="3.3" height="3.3" fill="#e2c020" stroke="#cfae14" stroke-width="0.4"/>
<rect x="164.25" y="567.35" width="3.3" height="3.3" fill="#e2c020" stroke="#cfae14" stroke-width="0.4"/>
<rect x="167.75" y="570.45" width="3.3" height="3.3" fill="#e2c020" stroke="#cfae14" stroke-width="0.4"/>
<rect x="170.05" y="565.05" width="3.3" height="3.3" fill="#e2c020" stroke="#cfae14" stroke-width="0.4"/>
<rect x="172.55" y="569.85" width="3.3" height="3.3" fill="#e2c020" stroke="#cfae14" stroke-width="0.4"/>
<rect x="170.05" y="567.55" width="3.3" height="3.3" fill="#e2c020" stroke="#cfae14" stroke-width="0.4"/>
<rect x="156.95" y="574.85" width="3.3" height="3.3" fill="#e2c020" stroke="#cfae14" stroke-width="0.4"/>
<rect x="162.15" y="574.85" width="3.3" height="3.3" fill="#e2c020" stroke="#cfae14" stroke-width="0.4"/>
<rect x="162.15" y="581.35" width="3.3" height="3.3" fill="#e2c020" stroke="#cfae14" stroke-width="0.4"/>
<rect x="162.15" y="586.05" width="3.3" height="3.3" fill="#e2c020" stroke="#cfae14" stroke-width="0.4"/>
<rect x="159.85" y="593.55" width="3.3" height="3.3" fill="#e2c020" stroke="#cfae14" stroke-width="0.4"/>
<rect x="164.45" y="592.95" width="3.3" height="3.3" fill="#e2c020" stroke="#cfae14" stroke-width="0.4"/>
<rect x="159.85" y="596.95" width="3.3" height="3.3" fill="#e2c020" stroke="#cfae14" stroke-width="0.4"/>
<rect x="164.25" y="602.15" width="3.3" height="3.3" fill="#e2c020" stroke="#cfae14" stroke-width="0.4"/>
<rect x="162.15" y="607.35" width="3.3" height="3.3" fill="#e2c020" stroke="#cfae14" stroke-width="0.4"/>
<rect x="159.65" y="620.05" width="3.3" height="3.3" fill="#e2c020" stroke="#cfae14" stroke-width="0.4"/>
<rect x="164.45" y="620.05" width="3.3" height="3.3" fill="#e2c020" stroke="#cfae14" stroke-width="0.4"/>
<rect x="159.65" y="629.35" width="3.3" height="3.3" fill="#e2c020" stroke="#cfae14" stroke-width="0.4"/>
<rect x="164.45" y="628.15" width="3.3" height="3.3" fill="#e2c020" stroke="#cfae14" stroke-width="0.4"/>
<line x1="139" y1="590.9" x2="189" y2="590.9" stroke="#111" stroke-width="1.4" />
<text x="260.8" y="546.9" font-size="12.2" stroke="#000" stroke-width="0.05" font-weight="bold">G</text>
<line x1="306.3" y1="546" x2="306.3" y2="657.5" stroke="#000" stroke-width="1.1" />
<line x1="306.3" y1="664.1" x2="306.3" y2="670.8" stroke="#000" stroke-width="1.1" />
<line x1="303.3" y1="547.3" x2="306.3" y2="547.3" stroke="#000" stroke-width="1.1" />
<text x="300.7" y="549.51" font-size="6" stroke="#333" stroke-width="0.05" text-anchor="end" fill="#333" textLength="6.3" lengthAdjust="spacingAndGlyphs">15</text>
<line x1="303.3" y1="574.9" x2="306.3" y2="574.9" stroke="#000" stroke-width="1.1" />
<text x="300.7" y="577.11" font-size="6" stroke="#333" stroke-width="0.05" text-anchor="end" fill="#333" textLength="6.3" lengthAdjust="spacingAndGlyphs">14</text>
<line x1="303.3" y1="602.5" x2="306.3" y2="602.5" stroke="#000" stroke-width="1.1" />
<text x="300.7" y="604.71" font-size="6" stroke="#333" stroke-width="0.05" text-anchor="end" fill="#333" textLength="6.3" lengthAdjust="spacingAndGlyphs">13</text>
<line x1="303.3" y1="630.1" x2="306.3" y2="630.1" stroke="#000" stroke-width="1.1" />
<text x="300.7" y="632.31" font-size="6" stroke="#333" stroke-width="0.05" text-anchor="end" fill="#333" textLength="6.3" lengthAdjust="spacingAndGlyphs">12</text>
<line x1="303.3" y1="657.7" x2="306.3" y2="657.7" stroke="#000" stroke-width="1.1" />
<text x="300.7" y="659.91" font-size="6" stroke="#333" stroke-width="0.05" text-anchor="end" fill="#333" textLength="6.3" lengthAdjust="spacingAndGlyphs">11</text>
<line x1="303.3" y1="664.1" x2="306.3" y2="664.1" stroke="#000" stroke-width="1.1" />
<text x="300.7" y="666.31" font-size="6" stroke="#333" stroke-width="0.05" text-anchor="end" fill="#333" textLength="6.6" lengthAdjust="spacingAndGlyphs">10</text>
<line x1="303.3" y1="670.4" x2="306.3" y2="670.4" stroke="#000" stroke-width="1.1" />
<text x="300.7" y="672.61" font-size="6" stroke="#333" stroke-width="0.05" text-anchor="end" fill="#333" textLength="3.4" lengthAdjust="spacingAndGlyphs">0</text>
<line x1="305.8" y1="670.4" x2="454.4" y2="670.4" stroke="#000" stroke-width="1.2" />
<line x1="340.2" y1="670.4" x2="340.2" y2="673.1" stroke="#000" stroke-width="1" />
<line x1="408.3" y1="670.4" x2="408.3" y2="673.1" stroke="#000" stroke-width="1" />
<text transform="translate(287.4,607.8) rotate(-90)" font-size="7.6" stroke="#222" stroke-width="0.16" text-anchor="middle" fill="#222" textLength="87.3" lengthAdjust="spacingAndGlyphs">CXCR4 probe set signal</text>
<text x="340.2" y="679.9" font-size="6.5" stroke="#222" stroke-width="0.16" text-anchor="middle" fill="#222" textLength="49" lengthAdjust="spacingAndGlyphs">SOX11-pos MCL</text>
<text x="340.4" y="687.6" font-size="6.5" stroke="#222" stroke-width="0.16" text-anchor="middle" fill="#222" textLength="18.9" lengthAdjust="spacingAndGlyphs">(n=14)</text>
<text x="408.3" y="679.9" font-size="6.5" stroke="#222" stroke-width="0.16" text-anchor="middle" fill="#222" textLength="49.3" lengthAdjust="spacingAndGlyphs">SOX11-neg MCL</text>
<text x="408.5" y="687.6" font-size="6.5" stroke="#222" stroke-width="0.16" text-anchor="middle" fill="#222" textLength="19.7" lengthAdjust="spacingAndGlyphs">(n=20)</text>
<circle cx="374.6" cy="568.9" r="1.15" fill="#1a1a1a"/>
<line x1="340" y1="574" x2="409.2" y2="574" stroke="#111" stroke-width="1.1" />
<line x1="340.5" y1="585.2" x2="340.5" y2="599" stroke="#522363" stroke-width="0.8" />
<line x1="328" y1="585.2" x2="352.9" y2="585.2" stroke="#4a2a5e" stroke-width="1.2" />
<line x1="328" y1="599" x2="352.9" y2="599" stroke="#4a2a5e" stroke-width="1.2" />
<circle cx="335" cy="585.2" r="2" fill="#36164a" />
<circle cx="340.5" cy="584.8" r="2" fill="#36164a" />
<circle cx="345.6" cy="584.2" r="2" fill="#36164a" />
<circle cx="332.1" cy="587.9" r="2" fill="#36164a" />
<circle cx="343.1" cy="588.6" r="2" fill="#36164a" />
<circle cx="348.3" cy="587.5" r="2" fill="#36164a" />
<circle cx="330.2" cy="592.3" r="2" fill="#36164a" />
<circle cx="335" cy="593.5" r="2" fill="#36164a" />
<circle cx="337.9" cy="591.1" r="2" fill="#36164a" />
<circle cx="345.1" cy="592.5" r="2" fill="#36164a" />
<circle cx="350.6" cy="592.1" r="2" fill="#36164a" />
<circle cx="340.5" cy="596.9" r="2" fill="#36164a" />
<circle cx="337.9" cy="605.9" r="2" fill="#36164a" />
<circle cx="343.3" cy="605.9" r="2" fill="#36164a" />
<line x1="317.5" y1="591.7" x2="363.3" y2="591.7" stroke="#111" stroke-width="1.4" />
<line x1="409.2" y1="586.5" x2="409.2" y2="613.5" stroke="#e9bc1f" stroke-width="0.8" />
<line x1="396.2" y1="586.5" x2="422.3" y2="586.5" stroke="#e9bc1f" stroke-width="1.1" />
<line x1="396.2" y1="613.5" x2="422.3" y2="613.5" stroke="#e9bc1f" stroke-width="1.1" />
<rect x="391.85" y="589.15" width="3.3" height="3.3" fill="#e2c020" stroke="#cfae14" stroke-width="0.4"/>
<rect x="396.55" y="591.45" width="3.3" height="3.3" fill="#e2c020" stroke="#cfae14" stroke-width="0.4"/>
<rect x="394.55" y="595.25" width="3.3" height="3.3" fill="#e2c020" stroke="#cfae14" stroke-width="0.4"/>
<rect x="402.15" y="586.85" width="3.3" height="3.3" fill="#e2c020" stroke="#cfae14" stroke-width="0.4"/>
<rect x="402.15" y="592.95" width="3.3" height="3.3" fill="#e2c020" stroke="#cfae14" stroke-width="0.4"/>
<rect x="407.55" y="587.55" width="3.3" height="3.3" fill="#e2c020" stroke="#cfae14" stroke-width="0.4"/>
<rect x="407.55" y="592.95" width="3.3" height="3.3" fill="#e2c020" stroke="#cfae14" stroke-width="0.4"/>
<rect x="412.15" y="587.55" width="3.3" height="3.3" fill="#e2c020" stroke="#cfae14" stroke-width="0.4"/>
<rect x="412.15" y="590.65" width="3.3" height="3.3" fill="#e2c020" stroke="#cfae14" stroke-width="0.4"/>
<rect x="417.55" y="591.45" width="3.3" height="3.3" fill="#e2c020" stroke="#cfae14" stroke-width="0.4"/>
<rect x="422.95" y="589.15" width="3.3" height="3.3" fill="#e2c020" stroke="#cfae14" stroke-width="0.4"/>
<rect x="419.85" y="594.55" width="3.3" height="3.3" fill="#e2c020" stroke="#cfae14" stroke-width="0.4"/>
<rect x="399.85" y="595.35" width="3.3" height="3.3" fill="#e2c020" stroke="#cfae14" stroke-width="0.4"/>
<rect x="404.55" y="600.65" width="3.3" height="3.3" fill="#e2c020" stroke="#cfae14" stroke-width="0.4"/>
<rect x="404.55" y="603.75" width="3.3" height="3.3" fill="#e2c020" stroke="#cfae14" stroke-width="0.4"/>
<rect x="409.85" y="603.75" width="3.3" height="3.3" fill="#e2c020" stroke="#cfae14" stroke-width="0.4"/>
<rect x="407.55" y="600.65" width="3.3" height="3.3" fill="#e2c020" stroke="#cfae14" stroke-width="0.4"/>
<rect x="409.85" y="632.95" width="3.3" height="3.3" fill="#e2c020" stroke="#cfae14" stroke-width="0.4"/>
<rect x="404.55" y="636.85" width="3.3" height="3.3" fill="#e2c020" stroke="#cfae14" stroke-width="0.4"/>
<rect x="415.35" y="595.35" width="3.3" height="3.3" fill="#e2c020" stroke="#cfae14" stroke-width="0.4"/>
<line x1="385.8" y1="599.7" x2="432" y2="599.7" stroke="#111" stroke-width="1.4" />
<rect x="0" y="0" width="520" height="1.1" fill="#000"/>
<rect x="0" y="0" width="1.5" height="697" fill="#000"/>
<rect x="518" y="0" width="2" height="697" fill="#000"/>
<rect x="0" y="695.4" width="520" height="1.6" fill="#000"/>
</svg>

</body></html>
